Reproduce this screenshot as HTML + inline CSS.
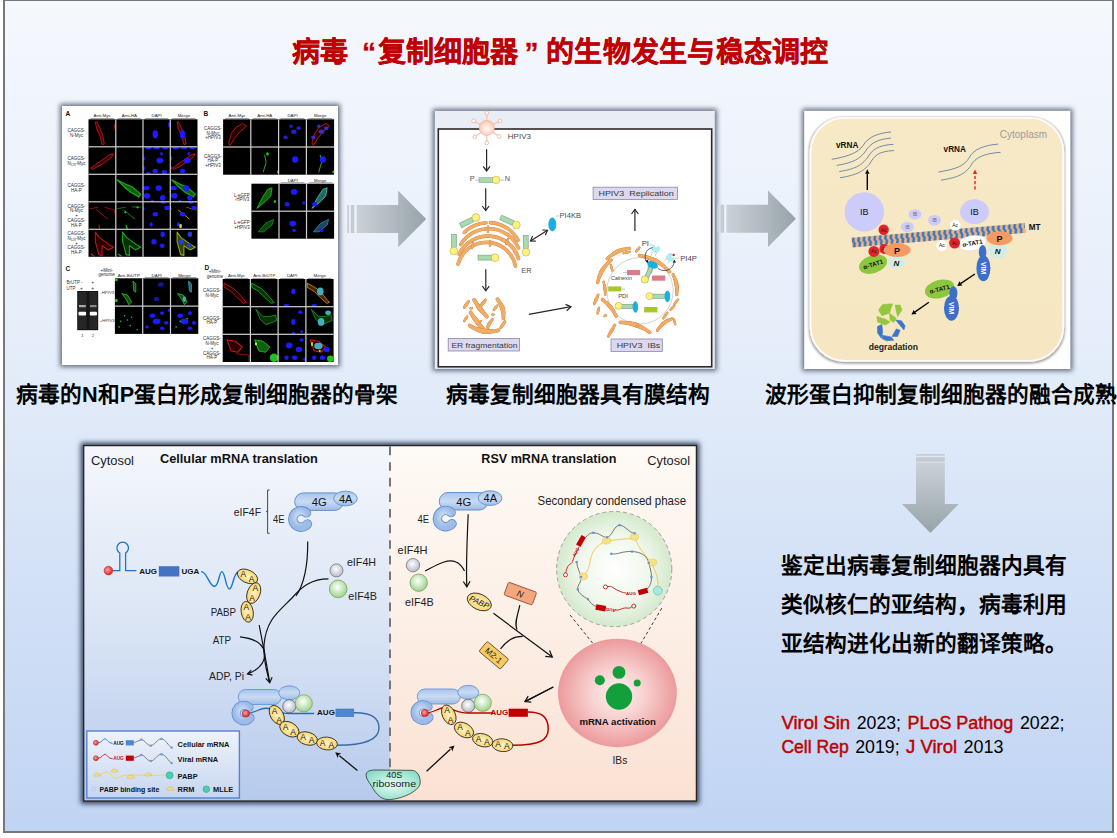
<!DOCTYPE html>
<html lang="zh-CN"><head><meta charset="utf-8"><style>
html,body{margin:0;padding:0;background:#fff;}
body{width:1117px;height:838px;position:relative;overflow:hidden;font-family:'Liberation Sans', sans-serif;}
#frame{position:absolute;left:3px;top:-1px;width:1107px;height:830px;border:2px solid #777;
background:linear-gradient(to bottom,#f5f8fd 0%,#e6eefa 40%,#c0d4f3 100%);}
svg{position:absolute;left:0;top:0;}
</style></head><body>
<div id="frame"></div>
<svg width="1117" height="838" viewBox="0 0 1117 838">
<defs>
<filter id="sh" x="-10%" y="-10%" width="120%" height="120%" color-interpolation-filters="sRGB"><feMorphology in="SourceAlpha" operator="dilate" radius="1.8"/><feGaussianBlur stdDeviation="2.4"/><feComponentTransfer><feFuncR type="linear" slope="0" intercept="0.4"/><feFuncG type="linear" slope="0" intercept="0.44"/><feFuncB type="linear" slope="0" intercept="0.52"/><feFuncA type="linear" slope="1.05"/></feComponentTransfer><feMerge><feMergeNode/><feMergeNode in="SourceGraphic"/></feMerge></filter><filter id="sh3" x="-10%" y="-10%" width="120%" height="120%" color-interpolation-filters="sRGB"><feMorphology in="SourceAlpha" operator="dilate" radius="2.5"/><feGaussianBlur stdDeviation="2.6"/><feComponentTransfer><feFuncR type="linear" slope="0" intercept="0.3"/><feFuncG type="linear" slope="0" intercept="0.36"/><feFuncB type="linear" slope="0" intercept="0.46"/><feFuncA type="linear" slope="1.15"/></feComponentTransfer><feMerge><feMergeNode/><feMergeNode in="SourceGraphic"/></feMerge></filter>
<filter id="b05"><feGaussianBlur stdDeviation="0.5"/></filter>
<filter id="b04"><feGaussianBlur stdDeviation="0.4"/></filter><filter id="b03"><feGaussianBlur stdDeviation="0.3"/></filter>
<linearGradient id="ag" x1="0" y1="0" x2="1" y2="0"><stop offset="0" stop-color="#cbd2d7"/><stop offset="1" stop-color="#97a3aa"/></linearGradient><linearGradient id="agv" x1="0" y1="0" x2="0" y2="1"><stop offset="0" stop-color="#cbd2d7"/><stop offset="1" stop-color="#97a3aa"/></linearGradient>
<radialGradient id="vir" cx="0.5" cy="0.55" r="0.6"><stop offset="0" stop-color="#fffaf6"/><stop offset="0.6" stop-color="#fbd9c8"/><stop offset="1" stop-color="#f2b99f"/></radialGradient>
<linearGradient id="beige" x1="0" y1="0" x2="0" y2="1"><stop offset="0" stop-color="#f7e9c6"/><stop offset="1" stop-color="#f6e7c2"/></linearGradient>
<pattern id="mt" x="0" y="0" width="5.4" height="9.8" patternUnits="userSpaceOnUse" patternTransform="translate(0,-4.9)"><rect width="5.4" height="9.8" fill="#f5b07c"/><path d="M1.2,-0.5 Q2.6,1.2 1.6,2.4 Q0.8,3.6 2.2,4.9 Q3.4,6.1 2.4,7.3 Q1.6,8.6 3,10.3" stroke="#2a7acb" stroke-width="2.3" fill="none"/></pattern>
<filter id="sh2" x="-5%" y="-5%" width="110%" height="110%"><feMorphology in="SourceAlpha" operator="dilate" radius="1"/><feGaussianBlur stdDeviation="1.1"/><feOffset dx="0" dy="0.6"/><feComponentTransfer><feFuncA type="linear" slope="0.35"/></feComponentTransfer><feMerge><feMergeNode/><feMergeNode in="SourceGraphic"/></feMerge></filter>
<linearGradient id="lbg" x1="0" y1="0" x2="0" y2="1"><stop offset="0" stop-color="#f4f7fc"/><stop offset="0.5" stop-color="#dbe5f5"/><stop offset="1" stop-color="#b6caec"/></linearGradient>
<linearGradient id="rbg" x1="0" y1="0" x2="0" y2="1"><stop offset="0" stop-color="#fefaf5"/><stop offset="0.5" stop-color="#fcefe6"/><stop offset="1" stop-color="#fbe1d3"/></linearGradient>
<linearGradient id="leg" x1="0" y1="0" x2="0" y2="1"><stop offset="0" stop-color="#eef3fb"/><stop offset="1" stop-color="#c6d6f0"/></linearGradient>
<linearGradient id="blg" x1="0" y1="0" x2="0" y2="1"><stop offset="0" stop-color="#a9c4ea"/><stop offset="0.5" stop-color="#c9dbf3"/><stop offset="1" stop-color="#9ebce6"/></linearGradient>
<radialGradient id="blg2" cx="0.45" cy="0.4" r="0.6"><stop offset="0" stop-color="#d8e6f8"/><stop offset="1" stop-color="#9dbbe6"/></radialGradient>
<radialGradient id="yel" cx="0.5" cy="0.5" r="0.6"><stop offset="0" stop-color="#fff2c2"/><stop offset="1" stop-color="#f7cf5e"/></radialGradient>
<radialGradient id="gry" cx="0.45" cy="0.4" r="0.6"><stop offset="0" stop-color="#ffffff"/><stop offset="1" stop-color="#b4bacb"/></radialGradient>
<radialGradient id="grn" cx="0.45" cy="0.4" r="0.6"><stop offset="0" stop-color="#ffffff"/><stop offset="1" stop-color="#9dd38a"/></radialGradient>
<radialGradient id="redc" cx="0.4" cy="0.4" r="0.6"><stop offset="0" stop-color="#f8a0a0"/><stop offset="1" stop-color="#e02828"/></radialGradient>
<radialGradient id="gcr" cx="0.5" cy="0.5" r="0.5"><stop offset="0" stop-color="#ffffff"/><stop offset="0.6" stop-color="#f0f7ec"/><stop offset="1" stop-color="#d4e9cc"/></radialGradient>
<radialGradient id="pnk" cx="0.5" cy="0.5" r="0.5"><stop offset="0" stop-color="#fdf2f0"/><stop offset="0.45" stop-color="#f8d2d0"/><stop offset="1" stop-color="#ec9a9c"/></radialGradient>
<radialGradient id="rib" cx="0.5" cy="0.5" r="0.6"><stop offset="0" stop-color="#eafcf8"/><stop offset="1" stop-color="#86dcc4"/></radialGradient>
<filter id="b06"><feGaussianBlur stdDeviation="0.6"/></filter>
<filter id="b1"><feGaussianBlur stdDeviation="1"/></filter>
</defs>
<rect x="62" y="106" width="276" height="259" fill="#fff" filter="url(#sh)"/><rect x="88.5" y="119.3" width="109.0" height="137.5" fill="#000"/><svg x="88.50" y="119.30" width="27.25" height="27.50" overflow="hidden"><g transform="translate(-88.50,-119.30)"><path d="M96.7,121.5 L99.4,127.5 L102.7,134.4 L104.3,144.1 L102.1,144.6 L99.9,135.8 L96.7,128.9 L95.3,122.0 Z" stroke="#e01818" stroke-width="0.9" fill="#e01818" fill-opacity="0.25" stroke-opacity="0.85" stroke-linejoin="round" filter="url(#b06)"/><path d="M114.4,124.8 L115.2,130.3" stroke="#e01818" stroke-width="0.8" fill="none" stroke-linecap="round" filter="url(#b04)"/></g></svg><svg x="143.00" y="119.30" width="27.25" height="27.50" overflow="hidden"><g transform="translate(-143.00,-119.30)"><ellipse cx="155.3" cy="134.4" rx="2.7" ry="4.1" fill="#1a1aff" filter="url(#b04)"/><ellipse cx="169.4" cy="124.8" rx="1.4" ry="2.8" fill="#1a1aff" filter="url(#b04)"/></g></svg><svg x="170.25" y="119.30" width="27.25" height="27.50" overflow="hidden"><g transform="translate(-170.25,-119.30)"><path d="M178.4,121.5 L181.2,127.5 L184.4,134.4 L186.1,144.1 L183.9,144.6 L181.7,135.8 L178.4,128.9 L177.1,122.0 Z" stroke="#e01818" stroke-width="0.9" fill="#e01818" fill-opacity="0.25" stroke-opacity="0.85" stroke-linejoin="round" filter="url(#b06)"/><ellipse cx="182.5" cy="134.4" rx="2.7" ry="4.1" fill="#1a1aff" filter="url(#b04)"/></g></svg><svg x="88.50" y="146.80" width="27.25" height="27.50" overflow="hidden"><g transform="translate(-88.50,-146.80)"><path d="M90.7,168.2 L99.4,161.9 L108.9,155.1 L113.0,153.7 L111.7,157.2 L103.5,163.3 L92.6,169.4 Z" stroke="#e01818" stroke-width="0.9" fill="#e01818" fill-opacity="0.25" stroke-opacity="0.85" stroke-linejoin="round" filter="url(#b06)"/></g></svg><svg x="143.00" y="146.80" width="27.25" height="27.50" overflow="hidden"><g transform="translate(-143.00,-146.80)"><ellipse cx="148.4" cy="147.6" rx="3.3" ry="1.9" fill="#1a1aff" filter="url(#b04)"/><ellipse cx="156.6" cy="147.6" rx="3.3" ry="1.9" fill="#1a1aff" filter="url(#b04)"/><ellipse cx="165.3" cy="147.6" rx="3.3" ry="1.9" fill="#1a1aff" filter="url(#b04)"/><ellipse cx="159.9" cy="160.6" rx="3.5" ry="2.8" fill="#1a1aff" filter="url(#b04)"/><ellipse cx="161.5" cy="153.7" rx="1.4" ry="1.6" fill="#1a1aff" filter="url(#b04)"/><ellipse cx="143.5" cy="158.4" rx="1.4" ry="2.2" fill="#1a1aff" filter="url(#b04)"/><ellipse cx="143.5" cy="168.2" rx="1.4" ry="2.2" fill="#1a1aff" filter="url(#b04)"/><ellipse cx="155.3" cy="171.0" rx="2.7" ry="2.2" fill="#1a1aff" filter="url(#b04)"/><ellipse cx="164.3" cy="172.1" rx="2.7" ry="2.2" fill="#1a1aff" filter="url(#b04)"/><ellipse cx="148.4" cy="173.5" rx="2.2" ry="1.4" fill="#1a1aff" filter="url(#b04)"/></g></svg><svg x="170.25" y="146.80" width="27.25" height="27.50" overflow="hidden"><g transform="translate(-170.25,-146.80)"><path d="M172.4,168.2 L181.2,161.9 L190.7,155.1 L194.8,153.7 L193.4,157.2 L185.2,163.3 L174.3,169.4 Z" stroke="#e01818" stroke-width="0.9" fill="#e01818" fill-opacity="0.25" stroke-opacity="0.85" stroke-linejoin="round" filter="url(#b06)"/><ellipse cx="175.7" cy="147.6" rx="3.3" ry="1.9" fill="#1a1aff" filter="url(#b04)"/><ellipse cx="183.9" cy="147.6" rx="3.3" ry="1.9" fill="#1a1aff" filter="url(#b04)"/><ellipse cx="192.6" cy="147.6" rx="3.3" ry="1.9" fill="#1a1aff" filter="url(#b04)"/><ellipse cx="187.1" cy="160.6" rx="3.5" ry="2.8" fill="#1a1aff" filter="url(#b04)"/><ellipse cx="188.8" cy="153.7" rx="1.4" ry="1.6" fill="#1a1aff" filter="url(#b04)"/><ellipse cx="170.8" cy="158.4" rx="1.4" ry="2.2" fill="#1a1aff" filter="url(#b04)"/><ellipse cx="170.8" cy="168.2" rx="1.4" ry="2.2" fill="#1a1aff" filter="url(#b04)"/><ellipse cx="182.5" cy="171.0" rx="2.7" ry="2.2" fill="#1a1aff" filter="url(#b04)"/></g></svg><svg x="115.75" y="174.30" width="27.25" height="27.50" overflow="hidden"><g transform="translate(-115.75,-174.30)"><path d="M117.1,179.8 L125.3,183.9 L132.1,186.7 L140.8,194.1 L138.9,196.9 L130.7,192.2 L123.9,186.7 Z" stroke="#22c022" stroke-width="1.1" fill="#22c022" fill-opacity="0.5" stroke-opacity="0.85" stroke-linejoin="round" filter="url(#b06)"/></g></svg><svg x="143.00" y="174.30" width="27.25" height="27.50" overflow="hidden"><g transform="translate(-143.00,-174.30)"><ellipse cx="146.3" cy="188.1" rx="3.3" ry="2.2" fill="#1a1aff" filter="url(#b04)"/><ellipse cx="158.8" cy="188.1" rx="3.3" ry="2.8" fill="#1a1aff" filter="url(#b04)"/><ellipse cx="147.1" cy="195.8" rx="3.3" ry="2.8" fill="#1a1aff" filter="url(#b04)"/><ellipse cx="162.6" cy="197.7" rx="2.7" ry="2.8" fill="#1a1aff" filter="url(#b04)"/><ellipse cx="152.5" cy="201.2" rx="1.6" ry="1.1" fill="#1a1aff" filter="url(#b04)"/></g></svg><svg x="170.25" y="174.30" width="27.25" height="27.50" overflow="hidden"><g transform="translate(-170.25,-174.30)"><path d="M171.6,179.8 L179.8,183.9 L186.6,186.7 L195.3,194.1 L193.4,196.9 L185.2,192.2 L178.4,186.7 Z" stroke="#22c022" stroke-width="1.1" fill="#22c022" fill-opacity="0.5" stroke-opacity="0.85" stroke-linejoin="round" filter="url(#b06)"/><ellipse cx="173.5" cy="188.1" rx="3.3" ry="2.2" fill="#1a1aff" filter="url(#b04)"/><ellipse cx="186.1" cy="188.1" rx="3.3" ry="2.8" fill="#1a1aff" filter="url(#b04)"/><ellipse cx="174.3" cy="195.8" rx="3.3" ry="2.8" fill="#1a1aff" filter="url(#b04)"/><ellipse cx="189.9" cy="197.7" rx="2.7" ry="2.8" fill="#1a1aff" filter="url(#b04)"/><ellipse cx="179.8" cy="201.2" rx="1.6" ry="1.1" fill="#1a1aff" filter="url(#b04)"/></g></svg><svg x="88.50" y="201.80" width="27.25" height="27.50" overflow="hidden"><g transform="translate(-88.50,-201.80)"><path d="M89.9,208.7 L98.0,207.3" stroke="#a01010" stroke-width="0.9" fill="none" stroke-linecap="round" filter="url(#b04)"/><path d="M96.7,210.1 L107.6,218.9" stroke="#a01010" stroke-width="1.0" fill="none" stroke-linecap="round" filter="url(#b04)"/><path d="M104.8,207.3 L114.4,210.1 L115.2,214.2" stroke="#a01010" stroke-width="0.9" fill="none" stroke-linecap="round" filter="url(#b04)"/><path d="M98.9,225.2 L99.9,228.8" stroke="#a01010" stroke-width="1.2" fill="none" stroke-linecap="round" filter="url(#b04)"/></g></svg><svg x="115.75" y="201.80" width="27.25" height="27.50" overflow="hidden"><g transform="translate(-115.75,-201.80)"><path d="M117.1,208.7 L125.3,207.3" stroke="#158a15" stroke-width="0.8" fill="none" stroke-linecap="round" filter="url(#b04)"/><path d="M123.9,210.1 L134.8,218.9" stroke="#158a15" stroke-width="0.9" fill="none" stroke-linecap="round" filter="url(#b04)"/><path d="M132.1,206.8 L140.3,207.3" stroke="#158a15" stroke-width="0.8" fill="none" stroke-linecap="round" filter="url(#b04)"/><ellipse cx="125.3" cy="212.2" rx="1.1" ry="1.1" fill="#22c022" opacity="1" transform="rotate(0 125.3 212.2)" filter="url(#b04)"/><ellipse cx="137.6" cy="207.3" rx="1.1" ry="1.1" fill="#22c022" opacity="1" transform="rotate(0 137.6 207.3)" filter="url(#b04)"/><path d="M126.1,225.2 L127.2,228.8" stroke="#22c022" stroke-width="1.2" fill="none" stroke-linecap="round" filter="url(#b04)"/></g></svg><svg x="143.00" y="201.80" width="27.25" height="27.50" overflow="hidden"><g transform="translate(-143.00,-201.80)"><ellipse cx="155.3" cy="214.2" rx="2.7" ry="2.2" fill="#1a1aff" filter="url(#b04)"/><ellipse cx="167.0" cy="207.9" rx="2.7" ry="2.2" fill="#1a1aff" filter="url(#b04)"/><ellipse cx="151.2" cy="224.4" rx="1.6" ry="2.2" fill="#1a1aff" filter="url(#b04)"/><ellipse cx="163.4" cy="202.4" rx="2.7" ry="1.4" fill="#1a1aff" filter="url(#b04)"/><ellipse cx="143.5" cy="208.7" rx="1.1" ry="1.6" fill="#1a1aff" filter="url(#b04)"/></g></svg><svg x="170.25" y="201.80" width="27.25" height="27.50" overflow="hidden"><g transform="translate(-170.25,-201.80)"><path d="M178.4,210.1 L189.3,218.9" stroke="#d88020" stroke-width="1.0" fill="none" stroke-linecap="round" filter="url(#b04)"/><path d="M186.6,207.3 L196.1,210.1" stroke="#806010" stroke-width="0.9" fill="none" stroke-linecap="round" filter="url(#b04)"/><ellipse cx="182.5" cy="214.2" rx="2.7" ry="2.2" fill="#1a1aff" filter="url(#b04)"/><ellipse cx="194.2" cy="207.9" rx="2.7" ry="2.2" fill="#1a1aff" filter="url(#b04)"/><ellipse cx="178.4" cy="224.4" rx="1.6" ry="2.2" fill="#1a1aff" filter="url(#b04)"/><ellipse cx="190.7" cy="202.4" rx="2.7" ry="1.4" fill="#1a1aff" filter="url(#b04)"/><ellipse cx="170.8" cy="208.7" rx="1.1" ry="1.6" fill="#1a1aff" filter="url(#b04)"/><ellipse cx="180.6" cy="226.0" rx="1.4" ry="2.2" fill="#c8c830" opacity="1" transform="rotate(0 180.6 226.0)" filter="url(#b04)"/></g></svg><svg x="88.50" y="229.30" width="27.25" height="27.50" overflow="hidden"><g transform="translate(-88.50,-229.30)"><path d="M95.3,232.1 L99.4,237.6 L108.9,244.4 L113.6,247.2 L108.1,249.9 L102.1,245.8 L102.1,255.4 L98.9,254.6 L95.3,241.7 Z" stroke="#e01818" stroke-width="1.1" fill="#e01818" fill-opacity="0.2" stroke-opacity="0.85" stroke-linejoin="round" filter="url(#b06)"/><path d="M91.2,254.1 L94.0,256.2" stroke="#e01818" stroke-width="1.2" fill="none" stroke-linecap="round" filter="url(#b04)"/></g></svg><svg x="115.75" y="229.30" width="27.25" height="27.50" overflow="hidden"><g transform="translate(-115.75,-229.30)"><path d="M122.6,232.1 L126.7,237.6 L136.2,244.4 L140.8,247.2 L135.4,249.9 L129.4,245.8 L129.4,255.4 L126.1,254.6 L122.6,241.7 Z" stroke="#22c022" stroke-width="1.1" fill="#22c022" fill-opacity="0.25" stroke-opacity="0.85" stroke-linejoin="round" filter="url(#b06)"/><path d="M118.5,254.1 L121.2,256.2" stroke="#22c022" stroke-width="1.2" fill="none" stroke-linecap="round" filter="url(#b04)"/></g></svg><svg x="143.00" y="229.30" width="27.25" height="27.50" overflow="hidden"><g transform="translate(-143.00,-229.30)"><ellipse cx="162.6" cy="234.2" rx="2.2" ry="2.8" fill="#1a1aff" filter="url(#b04)"/><ellipse cx="153.9" cy="241.7" rx="2.7" ry="2.8" fill="#1a1aff" filter="url(#b04)"/><ellipse cx="162.1" cy="245.8" rx="2.5" ry="2.2" fill="#1a1aff" filter="url(#b04)"/></g></svg><svg x="170.25" y="229.30" width="27.25" height="27.50" overflow="hidden"><g transform="translate(-170.25,-229.30)"><path d="M177.1,232.1 L181.2,237.6 L190.7,244.4 L195.3,247.2 L189.9,249.9 L183.9,245.8 L183.9,255.4 L180.6,254.6 L177.1,241.7 Z" stroke="#a0c020" stroke-width="1.1" fill="#a0c020" fill-opacity="0.35" stroke-opacity="0.85" stroke-linejoin="round" filter="url(#b06)"/><ellipse cx="189.9" cy="234.2" rx="2.2" ry="2.8" fill="#2040d0" filter="url(#b04)"/><ellipse cx="181.2" cy="241.7" rx="2.7" ry="2.8" fill="#2040d0" filter="url(#b04)"/><ellipse cx="189.3" cy="245.8" rx="2.5" ry="2.2" fill="#2040d0" filter="url(#b04)"/></g></svg><rect x="115.2" y="119.3" width="1.2" height="137.5" fill="#d0d0d0"/><rect x="142.4" y="119.3" width="1.2" height="137.5" fill="#d0d0d0"/><rect x="169.7" y="119.3" width="1.2" height="137.5" fill="#d0d0d0"/><rect x="88.5" y="146.2" width="109.0" height="1.2" fill="#d0d0d0"/><rect x="88.5" y="173.7" width="109.0" height="1.2" fill="#d0d0d0"/><rect x="88.5" y="201.2" width="109.0" height="1.2" fill="#d0d0d0"/><rect x="88.5" y="228.7" width="109.0" height="1.2" fill="#d0d0d0"/><rect x="223.1" y="119.3" width="111.0" height="55.4" fill="#000"/><svg x="223.10" y="119.30" width="27.75" height="27.70" overflow="hidden"><g transform="translate(-223.10,-119.30)"><path d="M228.7,142.8 L231.4,133.2 L235.6,127.6 L242.5,123.5 L246.7,126.2 L239.8,131.8 L234.2,138.7 L230.0,145.6 Z" stroke="#e01818" stroke-width="0.9" fill="#e01818" fill-opacity="0.15" stroke-opacity="0.85" stroke-linejoin="round" filter="url(#b06)"/></g></svg><svg x="278.60" y="119.30" width="27.75" height="27.70" overflow="hidden"><g transform="translate(-278.60,-119.30)"><ellipse cx="293.9" cy="131.8" rx="2.8" ry="2.2" fill="#2020c0" filter="url(#b04)"/><ellipse cx="298.6" cy="128.2" rx="2.2" ry="1.9" fill="#2020c0" filter="url(#b04)"/><ellipse cx="285.5" cy="137.3" rx="2.2" ry="1.9" fill="#2020c0" filter="url(#b04)"/><ellipse cx="291.1" cy="126.2" rx="1.7" ry="1.7" fill="#2020c0" filter="url(#b04)"/></g></svg><svg x="306.35" y="119.30" width="27.75" height="27.70" overflow="hidden"><g transform="translate(-306.35,-119.30)"><path d="M311.9,142.8 L314.7,133.2 L318.8,127.6 L325.8,123.5 L329.9,126.2 L323.0,131.8 L317.5,138.7 L313.3,145.6 Z" stroke="#e01818" stroke-width="0.9" fill="#e01818" fill-opacity="0.15" stroke-opacity="0.85" stroke-linejoin="round" filter="url(#b06)"/><ellipse cx="321.6" cy="131.8" rx="2.8" ry="2.2" fill="#3030d0" filter="url(#b04)"/><ellipse cx="326.3" cy="128.2" rx="2.2" ry="1.9" fill="#3030d0" filter="url(#b04)"/><ellipse cx="313.3" cy="137.3" rx="2.2" ry="1.9" fill="#3030d0" filter="url(#b04)"/><ellipse cx="318.8" cy="126.2" rx="1.7" ry="1.7" fill="#3030d0" filter="url(#b04)"/></g></svg><svg x="250.85" y="147.00" width="27.75" height="27.70" overflow="hidden"><g transform="translate(-250.85,-147.00)"><path d="M264.7,155.3 L266.1,162.2 L263.3,171.9" stroke="#22c022" stroke-width="0.9" fill="none" stroke-linecap="round" filter="url(#b04)"/><ellipse cx="267.5" cy="153.9" rx="1.4" ry="1.7" fill="#22c022" opacity="1" transform="rotate(0 267.5 153.9)" filter="url(#b04)"/><ellipse cx="278.0" cy="171.9" rx="1.1" ry="1.4" fill="#22c022" opacity="1" transform="rotate(0 278.0 171.9)" filter="url(#b04)"/></g></svg><svg x="278.60" y="147.00" width="27.75" height="27.70" overflow="hidden"><g transform="translate(-278.60,-147.00)"><ellipse cx="295.2" cy="159.5" rx="3.1" ry="3.3" fill="#1a1aff" filter="url(#b04)"/></g></svg><svg x="306.35" y="147.00" width="27.75" height="27.70" overflow="hidden"><g transform="translate(-306.35,-147.00)"><path d="M320.2,155.3 L321.6,162.2 L318.8,171.9" stroke="#22c022" stroke-width="0.9" fill="none" stroke-linecap="round" filter="url(#b04)"/><ellipse cx="323.0" cy="159.5" rx="3.1" ry="3.3" fill="#1a1aff" filter="url(#b04)"/><ellipse cx="333.5" cy="171.9" rx="1.1" ry="1.4" fill="#22c022" opacity="1" transform="rotate(0 333.5 171.9)" filter="url(#b04)"/></g></svg><rect x="250.2" y="119.3" width="1.2" height="55.4" fill="#d0d0d0"/><rect x="278.0" y="119.3" width="1.2" height="55.4" fill="#d0d0d0"/><rect x="305.8" y="119.3" width="1.2" height="55.4" fill="#d0d0d0"/><rect x="223.1" y="146.4" width="111.0" height="1.2" fill="#d0d0d0"/><rect x="251.4" y="183.7" width="82.7" height="55.0" fill="#000"/><svg x="251.40" y="183.70" width="27.57" height="27.50" overflow="hidden"><g transform="translate(-251.40,-183.70)"><path d="M256.9,208.4 L262.4,197.4 L267.9,189.2 L272.1,187.8 L270.7,196.1 L263.8,202.9 Z" stroke="#22c022" stroke-width="1.0" fill="#22c022" fill-opacity="0.5" stroke-opacity="0.85" stroke-linejoin="round" filter="url(#b06)"/><ellipse cx="274.8" cy="201.6" rx="1.1" ry="1.6" fill="#22c022" opacity="1" transform="rotate(0 274.8 201.6)" filter="url(#b04)"/></g></svg><svg x="278.97" y="183.70" width="27.57" height="27.50" overflow="hidden"><g transform="translate(-278.97,-183.70)"><ellipse cx="294.1" cy="191.9" rx="3.3" ry="2.8" fill="#1a1aff" filter="url(#b04)"/><ellipse cx="287.2" cy="204.3" rx="2.5" ry="2.2" fill="#1a1aff" filter="url(#b04)"/><ellipse cx="303.8" cy="202.9" rx="1.4" ry="1.6" fill="#1a1aff" filter="url(#b04)"/></g></svg><svg x="306.53" y="183.70" width="27.57" height="27.50" overflow="hidden"><g transform="translate(-306.53,-183.70)"><path d="M312.0,208.4 L317.6,197.4 L323.1,189.2 L327.2,187.8 L325.8,196.1 L318.9,202.9 Z" stroke="#40c0b0" stroke-width="1.0" fill="#40c0b0" fill-opacity="0.55" stroke-opacity="0.85" stroke-linejoin="round" filter="url(#b06)"/><ellipse cx="314.8" cy="204.3" rx="2.5" ry="2.2" fill="#1a1aff" filter="url(#b04)"/></g></svg><svg x="251.40" y="211.20" width="27.57" height="27.50" overflow="hidden"><g transform="translate(-251.40,-211.20)"><path d="M258.3,231.8 L265.2,223.6 L273.5,219.4 L272.1,224.9 L263.8,231.8 Z" stroke="#158a15" stroke-width="1.0" fill="#158a15" fill-opacity="0.5" stroke-opacity="0.85" stroke-linejoin="round" filter="url(#b06)"/></g></svg><svg x="278.97" y="211.20" width="27.57" height="27.50" overflow="hidden"><g transform="translate(-278.97,-211.20)"><ellipse cx="292.8" cy="223.6" rx="3.3" ry="2.8" fill="#1a1aff" filter="url(#b04)"/><ellipse cx="294.1" cy="230.4" rx="1.9" ry="1.6" fill="#1a1aff" filter="url(#b04)"/></g></svg><svg x="306.53" y="211.20" width="27.57" height="27.50" overflow="hidden"><g transform="translate(-306.53,-211.20)"><path d="M313.4,231.8 L320.3,223.6 L328.6,219.4 L327.2,224.9 L318.9,231.8 Z" stroke="#3080b0" stroke-width="1.0" fill="#3080b0" fill-opacity="0.55" stroke-opacity="0.85" stroke-linejoin="round" filter="url(#b06)"/><ellipse cx="321.7" cy="230.4" rx="1.9" ry="1.6" fill="#1a1aff" filter="url(#b04)"/></g></svg><rect x="278.4" y="183.7" width="1.2" height="55.0" fill="#d0d0d0"/><rect x="305.9" y="183.7" width="1.2" height="55.0" fill="#d0d0d0"/><rect x="251.4" y="210.6" width="82.7" height="1.2" fill="#d0d0d0"/><rect x="114.9" y="278.3" width="83.4" height="55.6" fill="#000"/><svg x="114.90" y="278.30" width="27.80" height="27.80" overflow="hidden"><g transform="translate(-114.90,-278.30)"><path d="M121.9,293.6 L126.0,299.1 L128.8,304.7 L131.6,301.9 L127.4,295.0 Z" stroke="#22c022" stroke-width="1.0" fill="#22c022" fill-opacity="0.4" stroke-opacity="0.85" stroke-linejoin="round" filter="url(#b06)"/><path d="M133.0,281.1 L135.8,283.9 L135.8,292.2 L133.8,290.8 Z" stroke="#22c022" stroke-width="1.0" fill="#22c022" fill-opacity="0.4" stroke-opacity="0.85" stroke-linejoin="round" filter="url(#b06)"/><ellipse cx="116.3" cy="300.5" rx="1.4" ry="1.7" fill="#22c022" opacity="1" transform="rotate(0 116.3 300.5)" filter="url(#b04)"/><ellipse cx="116.3" cy="279.7" rx="1.4" ry="1.7" fill="#22c022" opacity="1" transform="rotate(0 116.3 279.7)" filter="url(#b04)"/></g></svg><svg x="142.70" y="278.30" width="27.80" height="27.80" overflow="hidden"><g transform="translate(-142.70,-278.30)"><ellipse cx="160.8" cy="284.4" rx="2.8" ry="2.2" fill="#1818a0" filter="url(#b04)"/><ellipse cx="156.6" cy="299.1" rx="2.8" ry="2.2" fill="#1818a0" filter="url(#b04)"/></g></svg><svg x="170.50" y="278.30" width="27.80" height="27.80" overflow="hidden"><g transform="translate(-170.50,-278.30)"><path d="M177.4,293.6 L181.6,299.1 L184.4,304.7 L187.2,301.9 L183.0,295.0 Z" stroke="#22c022" stroke-width="1.0" fill="#22c022" fill-opacity="0.4" stroke-opacity="0.85" stroke-linejoin="round" filter="url(#b06)"/><path d="M188.6,281.1 L191.3,283.9 L191.3,292.2 L189.4,290.8 Z" stroke="#40b0c0" stroke-width="1.0" fill="#40b0c0" fill-opacity="0.5" stroke-opacity="0.85" stroke-linejoin="round" filter="url(#b06)"/><ellipse cx="184.4" cy="299.1" rx="1.7" ry="2.8" fill="#40b0c0" opacity="1" transform="rotate(0 184.4 299.1)" filter="url(#b04)"/></g></svg><svg x="114.90" y="306.10" width="27.80" height="27.80" overflow="hidden"><g transform="translate(-114.90,-306.10)"><ellipse cx="124.6" cy="315.8" rx="0.8" ry="0.8" fill="#22c022" filter="url(#b04)"/><ellipse cx="120.5" cy="321.4" rx="0.8" ry="0.8" fill="#22c022" filter="url(#b04)"/><ellipse cx="127.4" cy="320.0" rx="0.8" ry="0.8" fill="#22c022" filter="url(#b04)"/><ellipse cx="131.6" cy="317.2" rx="0.8" ry="0.8" fill="#22c022" filter="url(#b04)"/><ellipse cx="119.1" cy="326.9" rx="0.8" ry="0.8" fill="#22c022" filter="url(#b04)"/><ellipse cx="130.2" cy="325.6" rx="0.8" ry="0.8" fill="#22c022" filter="url(#b04)"/><ellipse cx="137.1" cy="329.7" rx="0.8" ry="0.8" fill="#22c022" filter="url(#b04)"/></g></svg><svg x="142.70" y="306.10" width="27.80" height="27.80" overflow="hidden"><g transform="translate(-142.70,-306.10)"><ellipse cx="152.4" cy="315.8" rx="2.8" ry="2.2" fill="#1a1aff" filter="url(#b04)"/><ellipse cx="156.6" cy="321.4" rx="3.9" ry="2.8" fill="#1a1aff" filter="url(#b04)"/><ellipse cx="162.2" cy="313.1" rx="2.2" ry="1.9" fill="#1a1aff" filter="url(#b04)"/><ellipse cx="166.3" cy="322.8" rx="2.2" ry="1.9" fill="#1a1aff" filter="url(#b04)"/><ellipse cx="146.9" cy="326.9" rx="1.7" ry="1.7" fill="#1a1aff" filter="url(#b04)"/><ellipse cx="162.2" cy="328.3" rx="2.2" ry="1.9" fill="#1a1aff" filter="url(#b04)"/><ellipse cx="169.1" cy="310.3" rx="1.4" ry="1.7" fill="#1a1aff" filter="url(#b04)"/></g></svg><svg x="170.50" y="306.10" width="27.80" height="27.80" overflow="hidden"><g transform="translate(-170.50,-306.10)"><ellipse cx="180.2" cy="315.8" rx="2.8" ry="2.2" fill="#1a1aff" filter="url(#b04)"/><ellipse cx="184.4" cy="321.4" rx="3.9" ry="2.8" fill="#1a1aff" filter="url(#b04)"/><ellipse cx="190.0" cy="313.1" rx="2.2" ry="1.9" fill="#1a1aff" filter="url(#b04)"/><ellipse cx="194.1" cy="322.8" rx="2.2" ry="1.9" fill="#1a1aff" filter="url(#b04)"/><ellipse cx="190.0" cy="328.3" rx="2.2" ry="1.9" fill="#1a1aff" filter="url(#b04)"/><ellipse cx="180.2" cy="321.4" rx="0.8" ry="0.8" fill="#22c022" filter="url(#b04)"/><ellipse cx="187.2" cy="318.6" rx="0.8" ry="0.8" fill="#22c022" filter="url(#b04)"/><ellipse cx="176.1" cy="326.9" rx="0.8" ry="0.8" fill="#22c022" filter="url(#b04)"/></g></svg><rect x="142.1" y="278.3" width="1.2" height="55.6" fill="#d0d0d0"/><rect x="169.9" y="278.3" width="1.2" height="55.6" fill="#d0d0d0"/><rect x="114.9" y="305.5" width="83.4" height="1.2" fill="#d0d0d0"/><rect x="222.7" y="279" width="110.9" height="83.0" fill="#000"/><svg x="222.70" y="279.00" width="27.73" height="27.67" overflow="hidden"><g transform="translate(-222.70,-279.00)"><path d="M224.1,283.1 L233.8,288.7 L239.3,294.2 L246.3,302.5 L243.5,303.3 L236.6,297.0 L231.0,291.4 L224.1,287.3 Z" stroke="#e01818" stroke-width="0.9" fill="#e01818" fill-opacity="0.15" stroke-opacity="0.85" stroke-linejoin="round" filter="url(#b06)"/></g></svg><svg x="250.43" y="279.00" width="27.73" height="27.67" overflow="hidden"><g transform="translate(-250.43,-279.00)"><path d="M251.8,283.1 L261.5,288.7 L267.1,294.2 L274.0,302.5 L271.2,303.3 L264.3,297.0 L258.7,291.4 L251.8,287.3 Z" stroke="#22c022" stroke-width="0.9" fill="#22c022" fill-opacity="0.25" stroke-opacity="0.85" stroke-linejoin="round" filter="url(#b06)"/></g></svg><svg x="278.15" y="279.00" width="27.73" height="27.67" overflow="hidden"><g transform="translate(-278.15,-279.00)"><ellipse cx="293.4" cy="291.4" rx="2.2" ry="2.8" fill="#1a1aff" filter="url(#b04)"/><ellipse cx="286.5" cy="305.3" rx="2.8" ry="1.4" fill="#1a1aff" filter="url(#b04)"/></g></svg><svg x="305.88" y="279.00" width="27.73" height="27.67" overflow="hidden"><g transform="translate(-305.88,-279.00)"><path d="M307.3,283.1 L317.0,288.7 L322.5,294.2 L329.4,302.5 L326.7,303.3 L319.7,297.0 L314.2,291.4 L307.3,287.3 Z" stroke="#d88020" stroke-width="1.0" fill="#d88020" fill-opacity="0.3" stroke-opacity="0.85" stroke-linejoin="round" filter="url(#b06)"/><ellipse cx="320.3" cy="291.4" rx="3.3" ry="3.9" fill="#40b0c0" opacity="1" transform="rotate(0 320.3 291.4)" filter="url(#b04)"/><ellipse cx="314.2" cy="305.3" rx="2.8" ry="1.4" fill="#1a1aff" filter="url(#b04)"/></g></svg><svg x="250.43" y="306.67" width="27.73" height="27.67" overflow="hidden"><g transform="translate(-250.43,-306.67)"><path d="M256.0,309.4 L262.9,316.4 L269.8,316.4 L275.4,315.0 L276.8,320.5 L269.8,323.3 L265.7,324.7 L260.1,319.1 Z" stroke="#20a020" stroke-width="0.9" fill="#20a020" fill-opacity="0.3" stroke-opacity="0.85" stroke-linejoin="round" filter="url(#b06)"/><path d="M258.7,323.3 L258.7,331.6" stroke="#158a15" stroke-width="0.9" fill="none" stroke-linecap="round" filter="url(#b04)"/></g></svg><svg x="278.15" y="306.67" width="27.73" height="27.67" overflow="hidden"><g transform="translate(-278.15,-306.67)"><ellipse cx="293.4" cy="321.9" rx="2.2" ry="2.8" fill="#1a1aff" filter="url(#b04)"/><ellipse cx="300.3" cy="312.2" rx="2.2" ry="1.7" fill="#1a1aff" filter="url(#b04)"/><ellipse cx="293.4" cy="333.0" rx="1.7" ry="1.1" fill="#1a1aff" filter="url(#b04)"/><ellipse cx="301.7" cy="331.6" rx="1.4" ry="1.4" fill="#1a1aff" filter="url(#b04)"/></g></svg><svg x="305.88" y="306.67" width="27.73" height="27.67" overflow="hidden"><g transform="translate(-305.88,-306.67)"><path d="M311.4,309.4 L318.4,316.4 L325.3,316.4 L330.8,315.0 L332.2,320.5 L325.3,323.3 L321.1,324.7 L315.6,319.1 Z" stroke="#20a020" stroke-width="0.9" fill="#20a020" fill-opacity="0.3" stroke-opacity="0.85" stroke-linejoin="round" filter="url(#b06)"/><ellipse cx="321.1" cy="321.9" rx="3.3" ry="3.9" fill="#40b0c0" opacity="1" transform="rotate(0 321.1 321.9)" filter="url(#b04)"/><ellipse cx="328.1" cy="312.8" rx="2.8" ry="2.2" fill="#40b0c0" opacity="1" transform="rotate(0 328.1 312.8)" filter="url(#b04)"/></g></svg><svg x="222.70" y="334.33" width="27.73" height="27.67" overflow="hidden"><g transform="translate(-222.70,-334.33)"><path d="M226.9,339.9 L235.2,341.2 L242.1,346.8 L237.9,352.3 L231.0,350.9 Z" stroke="#e01818" stroke-width="1.1" fill="#e01818" fill-opacity="0.2" stroke-opacity="0.85" stroke-linejoin="round" filter="url(#b06)"/><path d="M236.6,353.7 L249.0,355.1 L249.0,361.4" stroke="#a01010" stroke-width="0.9" fill="none" stroke-linecap="round" filter="url(#b04)"/></g></svg><svg x="250.43" y="334.33" width="27.73" height="27.67" overflow="hidden"><g transform="translate(-250.43,-334.33)"><path d="M254.6,339.9 L262.9,341.2 L269.8,346.8 L265.7,352.3 L258.7,350.9 Z" stroke="#22c022" stroke-width="1.0" fill="#22c022" fill-opacity="0.5" stroke-opacity="0.85" stroke-linejoin="round" filter="url(#b06)"/><ellipse cx="274.0" cy="357.8" rx="4.2" ry="4.2" fill="#22c022" opacity="1" transform="rotate(0 274.0 357.8)" filter="url(#b04)"/><ellipse cx="256.0" cy="344.0" rx="1.1" ry="1.4" fill="#a0ff60" opacity="1" transform="rotate(0 256.0 344.0)" filter="url(#b04)"/></g></svg><svg x="278.15" y="334.33" width="27.73" height="27.67" overflow="hidden"><g transform="translate(-278.15,-334.33)"><ellipse cx="289.2" cy="345.4" rx="3.3" ry="2.8" fill="#1a1aff" filter="url(#b04)"/><ellipse cx="298.9" cy="349.5" rx="3.3" ry="2.8" fill="#1a1aff" filter="url(#b04)"/><ellipse cx="301.7" cy="339.9" rx="2.2" ry="1.7" fill="#1a1aff" filter="url(#b04)"/><ellipse cx="286.5" cy="357.8" rx="2.2" ry="2.2" fill="#1a1aff" filter="url(#b04)"/><ellipse cx="294.8" cy="357.8" rx="2.8" ry="2.2" fill="#1a1aff" filter="url(#b04)"/><ellipse cx="304.5" cy="359.2" rx="1.4" ry="1.7" fill="#1a1aff" filter="url(#b04)"/></g></svg><svg x="305.88" y="334.33" width="27.73" height="27.67" overflow="hidden"><g transform="translate(-305.88,-334.33)"><path d="M310.0,339.9 L318.4,341.2 L325.3,346.8 L321.1,352.3 L314.2,350.9 Z" stroke="#e01818" stroke-width="1.1" fill="#e01818" fill-opacity="0.2" stroke-opacity="0.85" stroke-linejoin="round" filter="url(#b06)"/><ellipse cx="318.4" cy="346.0" rx="4.2" ry="3.3" fill="#40b0c0" opacity="1" transform="rotate(0 318.4 346.0)" filter="url(#b04)"/><ellipse cx="312.0" cy="344.0" rx="1.1" ry="2.2" fill="#c8c830" opacity="1" transform="rotate(0 312.0 344.0)" filter="url(#b04)"/><ellipse cx="319.7" cy="350.9" rx="1.1" ry="1.1" fill="#c8c830" opacity="1" transform="rotate(0 319.7 350.9)" filter="url(#b04)"/><ellipse cx="326.7" cy="349.5" rx="3.3" ry="2.8" fill="#1a1aff" filter="url(#b04)"/><ellipse cx="314.2" cy="357.8" rx="2.2" ry="2.2" fill="#1a1aff" filter="url(#b04)"/><ellipse cx="322.5" cy="357.8" rx="2.8" ry="2.2" fill="#1a1aff" filter="url(#b04)"/><ellipse cx="330.3" cy="358.7" rx="3.3" ry="3.3" fill="#22c022" opacity="1" transform="rotate(0 330.3 358.7)" filter="url(#b04)"/></g></svg><rect x="249.8" y="279" width="1.2" height="83.0" fill="#d0d0d0"/><rect x="277.5" y="279" width="1.2" height="83.0" fill="#d0d0d0"/><rect x="305.3" y="279" width="1.2" height="83.0" fill="#d0d0d0"/><rect x="222.7" y="306.1" width="110.9" height="1.2" fill="#d0d0d0"/><rect x="222.7" y="333.7" width="110.9" height="1.2" fill="#d0d0d0"/><rect x="77.2" y="291" width="21" height="39.2" fill="#161616"/><rect x="78.4" y="292" width="8" height="37" fill="#262626" filter="url(#b05)"/><rect x="89.6" y="292" width="7.5" height="37" fill="#262626" filter="url(#b05)"/><rect x="78.5" y="311.8" width="7.6" height="3.8" rx="1" fill="#fff" filter="url(#b04)"/><rect x="89.8" y="311.8" width="7.2" height="3.8" rx="1" fill="#fff" filter="url(#b04)"/><rect x="79" y="305" width="6.8" height="2.2" fill="#aaa" filter="url(#b05)"/><rect x="90" y="305" width="6.5" height="2.2" fill="#888" filter="url(#b05)"/><text x="65.5" y="115.5" font-family="'Liberation Sans', sans-serif" font-weight="bold" font-size="6.5" fill="#111">A</text><text x="203.5" y="115.5" font-family="'Liberation Sans', sans-serif" font-weight="bold" font-size="6.5" fill="#111">B</text><text x="65.5" y="270.5" font-family="'Liberation Sans', sans-serif" font-weight="bold" font-size="6.5" fill="#111">C</text><text x="204.5" y="270" font-family="'Liberation Sans', sans-serif" font-weight="bold" font-size="6.5" fill="#111">D</text><text x="102.1" y="117.3" font-family="'Liberation Sans', sans-serif" font-size="4.4" text-anchor="middle" fill="#222" font-weight="normal">Anti-Myc</text><rect x="90.5" y="118.1" width="23.2" height="0.5" fill="#444"/><text x="129.4" y="117.3" font-family="'Liberation Sans', sans-serif" font-size="4.4" text-anchor="middle" fill="#222" font-weight="normal">Anti-HA</text><rect x="117.8" y="118.1" width="23.2" height="0.5" fill="#444"/><text x="156.6" y="117.3" font-family="'Liberation Sans', sans-serif" font-size="4.4" text-anchor="middle" fill="#222" font-weight="normal">DAPI</text><rect x="145.0" y="118.1" width="23.2" height="0.5" fill="#444"/><text x="183.9" y="117.3" font-family="'Liberation Sans', sans-serif" font-size="4.4" text-anchor="middle" fill="#222" font-weight="normal">Merge</text><rect x="172.2" y="118.1" width="23.2" height="0.5" fill="#444"/><text x="237.0" y="117.3" font-family="'Liberation Sans', sans-serif" font-size="4.4" text-anchor="middle" fill="#222" font-weight="normal">Anti-Myc</text><rect x="225.1" y="118.1" width="23.8" height="0.5" fill="#444"/><text x="264.7" y="117.3" font-family="'Liberation Sans', sans-serif" font-size="4.4" text-anchor="middle" fill="#222" font-weight="normal">Anti-HA</text><rect x="252.8" y="118.1" width="23.8" height="0.5" fill="#444"/><text x="292.5" y="117.3" font-family="'Liberation Sans', sans-serif" font-size="4.4" text-anchor="middle" fill="#222" font-weight="normal">DAPI</text><rect x="280.6" y="118.1" width="23.8" height="0.5" fill="#444"/><text x="320.2" y="117.3" font-family="'Liberation Sans', sans-serif" font-size="4.4" text-anchor="middle" fill="#222" font-weight="normal">Merge</text><rect x="308.4" y="118.1" width="23.8" height="0.5" fill="#444"/><text x="292.8" y="181.8" font-family="'Liberation Sans', sans-serif" font-size="4.4" text-anchor="middle" fill="#222" font-weight="normal">DAPI</text><rect x="281.0" y="182.60000000000002" width="23.6" height="0.5" fill="#444"/><text x="320.3" y="181.8" font-family="'Liberation Sans', sans-serif" font-size="4.4" text-anchor="middle" fill="#222" font-weight="normal">Merge</text><rect x="308.6" y="182.60000000000002" width="23.6" height="0.5" fill="#444"/><text x="156.7" y="276.5" font-family="'Liberation Sans', sans-serif" font-size="4.4" text-anchor="middle" fill="#222" font-weight="normal">DAPI</text><rect x="144.8" y="277.3" width="23.8" height="0.5" fill="#444"/><text x="184.4" y="276.5" font-family="'Liberation Sans', sans-serif" font-size="4.4" text-anchor="middle" fill="#222" font-weight="normal">Merge</text><rect x="172.6" y="277.3" width="23.8" height="0.5" fill="#444"/><text x="128.8" y="276.5" font-family="'Liberation Sans', sans-serif" font-size="4.4" text-anchor="middle" fill="#222" font-weight="normal">Anti-BrUTP</text><text x="236.6" y="277.2" font-family="'Liberation Sans', sans-serif" font-size="4.4" text-anchor="middle" fill="#222" font-weight="normal">Anti-Myc</text><rect x="224.7" y="278.0" width="23.7" height="0.5" fill="#444"/><text x="264.3" y="277.2" font-family="'Liberation Sans', sans-serif" font-size="4.4" text-anchor="middle" fill="#222" font-weight="normal">Anti-BrUTP</text><rect x="252.4" y="278.0" width="23.7" height="0.5" fill="#444"/><text x="292.0" y="277.2" font-family="'Liberation Sans', sans-serif" font-size="4.4" text-anchor="middle" fill="#222" font-weight="normal">DAPI</text><rect x="280.1" y="278.0" width="23.7" height="0.5" fill="#444"/><text x="319.7" y="277.2" font-family="'Liberation Sans', sans-serif" font-size="4.4" text-anchor="middle" fill="#222" font-weight="normal">Merge</text><rect x="307.9" y="278.0" width="23.7" height="0.5" fill="#444"/><text x="76.5" y="132.2" font-family="'Liberation Sans', sans-serif" font-size="4.5" text-anchor="middle" fill="#2a2a2a" font-weight="normal">CAGGS-</text><text x="76.5" y="137.0" font-family="'Liberation Sans', sans-serif" font-size="4.5" text-anchor="middle" fill="#2a2a2a" font-weight="normal">N-Myc</text><text x="76.5" y="159.7" font-family="'Liberation Sans', sans-serif" font-size="4.5" text-anchor="middle" fill="#2a2a2a" font-weight="normal">CAGGS-</text><text x="76.5" y="164.5" font-family="'Liberation Sans', sans-serif" font-size="4.5" text-anchor="middle" fill="#2a2a2a" font-weight="normal">N₁₂₈-Myc</text><text x="76.5" y="187.2" font-family="'Liberation Sans', sans-serif" font-size="4.5" text-anchor="middle" fill="#2a2a2a" font-weight="normal">CAGGS-</text><text x="76.5" y="192.0" font-family="'Liberation Sans', sans-serif" font-size="4.5" text-anchor="middle" fill="#2a2a2a" font-weight="normal">HA-P</text><text x="76.5" y="207.5" font-family="'Liberation Sans', sans-serif" font-size="4.5" text-anchor="middle" fill="#2a2a2a" font-weight="normal">CAGGS-</text><text x="76.5" y="212.3" font-family="'Liberation Sans', sans-serif" font-size="4.5" text-anchor="middle" fill="#2a2a2a" font-weight="normal">N-Myc</text><text x="76.5" y="217.1" font-family="'Liberation Sans', sans-serif" font-size="4.5" text-anchor="middle" fill="#2a2a2a" font-weight="normal">+</text><text x="76.5" y="221.9" font-family="'Liberation Sans', sans-serif" font-size="4.5" text-anchor="middle" fill="#2a2a2a" font-weight="normal">CAGGS-</text><text x="76.5" y="226.7" font-family="'Liberation Sans', sans-serif" font-size="4.5" text-anchor="middle" fill="#2a2a2a" font-weight="normal">HA-P</text><text x="76.5" y="235.0" font-family="'Liberation Sans', sans-serif" font-size="4.5" text-anchor="middle" fill="#2a2a2a" font-weight="normal">CAGGS-</text><text x="76.5" y="239.8" font-family="'Liberation Sans', sans-serif" font-size="4.5" text-anchor="middle" fill="#2a2a2a" font-weight="normal">N₁₂₈-Myc</text><text x="76.5" y="244.6" font-family="'Liberation Sans', sans-serif" font-size="4.5" text-anchor="middle" fill="#2a2a2a" font-weight="normal">+</text><text x="76.5" y="249.4" font-family="'Liberation Sans', sans-serif" font-size="4.5" text-anchor="middle" fill="#2a2a2a" font-weight="normal">CAGGS-</text><text x="76.5" y="254.2" font-family="'Liberation Sans', sans-serif" font-size="4.5" text-anchor="middle" fill="#2a2a2a" font-weight="normal">HA-P</text><text x="213.0" y="129.8" font-family="'Liberation Sans', sans-serif" font-size="4.5" text-anchor="middle" fill="#2a2a2a" font-weight="normal">CAGGS-</text><text x="213.0" y="134.7" font-family="'Liberation Sans', sans-serif" font-size="4.5" text-anchor="middle" fill="#2a2a2a" font-weight="normal">N-Myc</text><text x="213.0" y="139.4" font-family="'Liberation Sans', sans-serif" font-size="4.5" text-anchor="middle" fill="#2a2a2a" font-weight="normal">+HPIV3</text><text x="213.0" y="157.5" font-family="'Liberation Sans', sans-serif" font-size="4.5" text-anchor="middle" fill="#2a2a2a" font-weight="normal">CAGGS-</text><text x="213.0" y="162.3" font-family="'Liberation Sans', sans-serif" font-size="4.5" text-anchor="middle" fill="#2a2a2a" font-weight="normal">HA-P</text><text x="213.0" y="167.1" font-family="'Liberation Sans', sans-serif" font-size="4.5" text-anchor="middle" fill="#2a2a2a" font-weight="normal">+HPIV3</text><text x="242.0" y="196.5" font-family="'Liberation Sans', sans-serif" font-size="4.5" text-anchor="middle" fill="#2a2a2a" font-weight="normal">L-eGFP</text><text x="242.0" y="201.3" font-family="'Liberation Sans', sans-serif" font-size="4.5" text-anchor="middle" fill="#2a2a2a" font-weight="normal">-HPIV3</text><text x="242.0" y="224.0" font-family="'Liberation Sans', sans-serif" font-size="4.5" text-anchor="middle" fill="#2a2a2a" font-weight="normal">L-eGFP</text><text x="242.0" y="228.8" font-family="'Liberation Sans', sans-serif" font-size="4.5" text-anchor="middle" fill="#2a2a2a" font-weight="normal">+HPIV3</text><text x="212.0" y="291.9" font-family="'Liberation Sans', sans-serif" font-size="4.5" text-anchor="middle" fill="#2a2a2a" font-weight="normal">CAGGS-</text><text x="212.0" y="296.7" font-family="'Liberation Sans', sans-serif" font-size="4.5" text-anchor="middle" fill="#2a2a2a" font-weight="normal">N-Myc</text><text x="212.0" y="319.6" font-family="'Liberation Sans', sans-serif" font-size="4.5" text-anchor="middle" fill="#2a2a2a" font-weight="normal">CAGGS-</text><text x="212.0" y="324.4" font-family="'Liberation Sans', sans-serif" font-size="4.5" text-anchor="middle" fill="#2a2a2a" font-weight="normal">HA-P</text><text x="212.0" y="340.1" font-family="'Liberation Sans', sans-serif" font-size="4.5" text-anchor="middle" fill="#2a2a2a" font-weight="normal">CAGGS-</text><text x="212.0" y="344.9" font-family="'Liberation Sans', sans-serif" font-size="4.5" text-anchor="middle" fill="#2a2a2a" font-weight="normal">N-Myc</text><text x="212.0" y="349.7" font-family="'Liberation Sans', sans-serif" font-size="4.5" text-anchor="middle" fill="#2a2a2a" font-weight="normal">+</text><text x="212.0" y="354.5" font-family="'Liberation Sans', sans-serif" font-size="4.5" text-anchor="middle" fill="#2a2a2a" font-weight="normal">CAGGS-</text><text x="212.0" y="359.3" font-family="'Liberation Sans', sans-serif" font-size="4.5" text-anchor="middle" fill="#2a2a2a" font-weight="normal">HA-P</text><text x="214.9" y="273.2" font-family="'Liberation Sans', sans-serif" font-size="4.5" text-anchor="middle" fill="#2a2a2a" font-weight="normal">+Mini-</text><text x="214.9" y="278.0" font-family="'Liberation Sans', sans-serif" font-size="4.5" text-anchor="middle" fill="#2a2a2a" font-weight="normal">genome</text><text x="106.7" y="271.6" font-family="'Liberation Sans', sans-serif" font-size="4.5" text-anchor="middle" fill="#2a2a2a" font-weight="normal">+Mini-</text><text x="106.7" y="276.4" font-family="'Liberation Sans', sans-serif" font-size="4.5" text-anchor="middle" fill="#2a2a2a" font-weight="normal">genome</text><text x="66.5" y="284" font-family="'Liberation Sans', sans-serif" font-size="4.5" text-anchor="start" fill="#333" font-weight="normal">BrUTP -</text><text x="91.2" y="284" font-family="'Liberation Sans', sans-serif" font-size="4.8" text-anchor="start" fill="#333" font-weight="normal">+</text><text x="66.5" y="289.8" font-family="'Liberation Sans', sans-serif" font-size="4.5" text-anchor="start" fill="#333" font-weight="normal">UTP</text><text x="80" y="289.8" font-family="'Liberation Sans', sans-serif" font-size="4.8" text-anchor="start" fill="#333" font-weight="normal">+</text><text x="91.2" y="289.8" font-family="'Liberation Sans', sans-serif" font-size="4.8" text-anchor="start" fill="#333" font-weight="normal">+</text><text x="100.3" y="293.6" font-family="'Liberation Sans', sans-serif" font-size="4.3" text-anchor="start" fill="#333" font-weight="normal">-HPIV3</text><text x="99.8" y="321.8" font-family="'Liberation Sans', sans-serif" font-size="4.3" text-anchor="start" fill="#333" font-weight="normal">+HPIV3</text><text x="82.5" y="336.5" font-family="'Liberation Sans', sans-serif" font-size="4.3" text-anchor="middle" fill="#444" font-weight="normal">1</text><text x="93" y="336.5" font-family="'Liberation Sans', sans-serif" font-size="4.3" text-anchor="middle" fill="#444" font-weight="normal">2</text>
<rect x="434.8" y="110.9" width="280" height="258" fill="#e9eef6" filter="url(#sh)"/><rect x="438.3" y="129" width="273.4" height="237.8" fill="#fff" stroke="#2e2626" stroke-width="1.6"/><line x1="486.8" y1="127.9" x2="486.8" y2="112.9" stroke="#f0c8b4" stroke-width="1.3"/><circle cx="486.8" cy="112.9" r="1.9" fill="#fff" stroke="#eab29a" stroke-width="0.8"/><line x1="486.8" y1="127.9" x2="500.0" y2="120.9" stroke="#f0c8b4" stroke-width="1.3"/><circle cx="500.0" cy="120.9" r="1.9" fill="#fff" stroke="#eab29a" stroke-width="0.8"/><line x1="486.8" y1="127.9" x2="499.1" y2="136.5" stroke="#f0c8b4" stroke-width="1.3"/><circle cx="499.1" cy="136.5" r="1.9" fill="#fff" stroke="#eab29a" stroke-width="0.8"/><line x1="486.8" y1="127.9" x2="486.8" y2="142.9" stroke="#f0c8b4" stroke-width="1.3"/><circle cx="486.8" cy="142.9" r="1.9" fill="#fff" stroke="#eab29a" stroke-width="0.8"/><line x1="486.8" y1="127.9" x2="474.8" y2="136.9" stroke="#f0c8b4" stroke-width="1.3"/><circle cx="474.8" cy="136.9" r="1.9" fill="#fff" stroke="#eab29a" stroke-width="0.8"/><line x1="486.8" y1="127.9" x2="473.6" y2="120.9" stroke="#f0c8b4" stroke-width="1.3"/><circle cx="473.6" cy="120.9" r="1.9" fill="#fff" stroke="#eab29a" stroke-width="0.8"/><circle cx="486.8" cy="127.9" r="7.6" fill="url(#vir)" stroke="#ebb59e" stroke-width="0.6"/><text x="507.8" y="139" font-family="'Liberation Sans', sans-serif" font-size="8" text-anchor="start" fill="#4a4a4a" font-weight="normal" >HPIV3</text><path d="M486.6,149.2 L486.6,170.6" stroke="#2a2424" stroke-width="1.2" fill="none"/><path d="M483.20000000000005,166.3 L486.6,170.9 L490.0,166.3" stroke="#2a2424" stroke-width="1.2" fill="none" stroke-linejoin="miter"/><text x="469.8" y="181" font-family="'Liberation Sans', sans-serif" font-size="7.4" text-anchor="start" fill="#555" font-weight="normal" >P</text><text x="504.8" y="181" font-family="'Liberation Sans', sans-serif" font-size="7.4" text-anchor="start" fill="#555" font-weight="normal" >N</text><line x1="475" y1="180.2" x2="479" y2="180.2" stroke="#888" stroke-width="0.5"/><line x1="500" y1="180.2" x2="504" y2="180.2" stroke="#888" stroke-width="0.5"/><rect x="479.0" y="177.8" width="14.0" height="4.6" fill="#a6dbb0" stroke="#6e8a74" stroke-width="0.5" transform="rotate(0.0 479.0 180.1)"/><circle cx="496.1" cy="179.9" r="3.8" fill="#fff27a" stroke="#a8a060" stroke-width="0.5"/><path d="M485.7,188.3 L485.7,210.29999999999998" stroke="#2a2424" stroke-width="1.2" fill="none"/><path d="M482.3,206.0 L485.7,210.6 L489.09999999999997,206.0" stroke="#2a2424" stroke-width="1.2" fill="none" stroke-linejoin="miter"/><path d="M458,264 A29.6,29.6 0 0 1 515.5,266" stroke="#c88848" stroke-width="3.7" fill="none" stroke-linecap="round"/><path d="M458,264 A29.6,29.6 0 0 1 515.5,266" stroke="#f4ab64" stroke-width="3.0" fill="none" stroke-linecap="round"/><path d="M459.2,254 A32,32 0 0 1 518.5,258.5" stroke="#c88848" stroke-width="3.7" fill="none" stroke-linecap="round"/><path d="M459.2,254 A32,32 0 0 1 518.5,258.5" stroke="#f4ab64" stroke-width="3.0" fill="none" stroke-linecap="round"/><path d="M460.8,244.4 A32.7,32.7 0 0 1 518.5,248" stroke="#c88848" stroke-width="3.5999999999999996" fill="none" stroke-linecap="round"/><path d="M460.8,244.4 A32.7,32.7 0 0 1 518.5,248" stroke="#f4ab64" stroke-width="2.9" fill="none" stroke-linecap="round"/><path d="M464.4,232.4 A34,34 0 0 1 486,222.8" stroke="#c88848" stroke-width="3.5999999999999996" fill="none" stroke-linecap="round"/><path d="M464.4,232.4 A34,34 0 0 1 486,222.8" stroke="#f4ab64" stroke-width="2.9" fill="none" stroke-linecap="round"/><path d="M490.5,222.6 A34,34 0 0 1 518,240" stroke="#c88848" stroke-width="3.5999999999999996" fill="none" stroke-linecap="round"/><path d="M490.5,222.6 A34,34 0 0 1 518,240" stroke="#f4ab64" stroke-width="2.9" fill="none" stroke-linecap="round"/><path d="M488,232 L488,226.5" stroke="#c88848" stroke-width="2.3" fill="none" stroke-linecap="round"/><path d="M488,232 L488,226.5" stroke="#f4ab64" stroke-width="1.6" fill="none" stroke-linecap="round"/><path d="M472,248 L473,243" stroke="#c88848" stroke-width="2.3" fill="none" stroke-linecap="round"/><path d="M472,248 L473,243" stroke="#f4ab64" stroke-width="1.6" fill="none" stroke-linecap="round"/><path d="M506,244 L508,239" stroke="#c88848" stroke-width="2.3" fill="none" stroke-linecap="round"/><path d="M506,244 L508,239" stroke="#f4ab64" stroke-width="1.6" fill="none" stroke-linecap="round"/><path d="M490,246 L490,241" stroke="#c88848" stroke-width="2.3" fill="none" stroke-linecap="round"/><path d="M490,246 L490,241" stroke="#f4ab64" stroke-width="1.6" fill="none" stroke-linecap="round"/><rect x="460.5" y="223.0" width="13.5" height="5" fill="#a6dbb0" stroke="#6e8a74" stroke-width="0.5" transform="rotate(-26.0 460.5 225.5)"/><circle cx="475.9" cy="217.5" r="3.9" fill="#fff27a" stroke="#a8a060" stroke-width="0.5"/><rect x="500.6" y="215.0" width="13.7" height="5" fill="#a6dbb0" stroke="#6e8a74" stroke-width="0.5" transform="rotate(23.7 500.6 217.5)"/><circle cx="516.4" cy="224.9" r="3.9" fill="#fff27a" stroke="#a8a060" stroke-width="0.5"/><rect x="454.0" y="231.7" width="13.0" height="5" fill="#a6dbb0" stroke="#6e8a74" stroke-width="0.5" transform="rotate(90.0 454.0 234.2)"/><circle cx="453.8" cy="251" r="3.9" fill="#fff27a" stroke="#a8a060" stroke-width="0.5"/><rect x="525.7" y="233.0" width="12.9" height="5" fill="#a6dbb0" stroke="#6e8a74" stroke-width="0.5" transform="rotate(90.0 525.7 235.5)"/><circle cx="525.9" cy="252.2" r="3.9" fill="#fff27a" stroke="#a8a060" stroke-width="0.5"/><rect x="478.0" y="255.1" width="13.8" height="5" fill="#a6dbb0" stroke="#6e8a74" stroke-width="0.5" transform="rotate(0.0 478.0 257.6)"/><circle cx="495.1" cy="257.6" r="3.9" fill="#fff27a" stroke="#a8a060" stroke-width="0.5"/><text x="521.3" y="272.8" font-family="'Liberation Sans', sans-serif" font-size="7.4" text-anchor="start" fill="#555" font-weight="normal" >ER</text><ellipse cx="552.3" cy="224.4" rx="3.6" ry="6.6" fill="#14b0ea" stroke="#1088b8" stroke-width="0.5"/><line x1="556" y1="216" x2="559" y2="216" stroke="#888" stroke-width="0.5"/><text x="559.5" y="217.5" font-family="'Liberation Sans', sans-serif" font-size="7.6" text-anchor="start" fill="#4a4a4a" font-weight="normal" >PI4KB</text><path d="M530.5,241.0 L547.5,230.2" stroke="#2a2424" stroke-width="1.2" fill="none"/><path d="M545.4,235.1 L547.5,230.2 L542.2,230.0" stroke="#2a2424" stroke-width="1.2" fill="none"/><path d="M535.8,241.2 L530.5,241.0 L532.6,236.1" stroke="#2a2424" stroke-width="1.2" fill="none"/><path d="M485.8,269.3 L485.8,290.5" stroke="#2a2424" stroke-width="1.2" fill="none"/><path d="M482.40000000000003,286.2 L485.8,290.8 L489.2,286.2" stroke="#2a2424" stroke-width="1.2" fill="none" stroke-linejoin="miter"/><path d="M464.2,307.4 Q466.4,304.4 468.6,301.4" stroke="#c88848" stroke-width="2.82" fill="none" stroke-linecap="round"/><path d="M464.2,307.4 Q468.7,306.1 468.6,301.4 Q464.1,302.7 464.2,307.4 Z" fill="#f4ab64" stroke="#c88848" stroke-width="1.0" stroke-linejoin="round"/><path d="M464.2,307.4 Q466.4,304.4 468.6,301.4" stroke="#f4ab64" stroke-width="2.02" fill="none" stroke-linecap="round"/><path d="M464.2,307.4 Q468.7,306.1 468.6,301.4 Q464.1,302.7 464.2,307.4 Z" fill="#f4ab64"/><path d="M474.2,300.0 Q479.5,309.0 486.8,316.6" stroke="#c88848" stroke-width="3.97" fill="none" stroke-linecap="round"/><path d="M474.2,300.0 Q476.0,311.7 486.8,316.6 Q483.0,306.4 474.2,300.0 Z" fill="#f4ab64" stroke="#c88848" stroke-width="1.0" stroke-linejoin="round"/><path d="M474.2,300.0 Q479.5,309.0 486.8,316.6" stroke="#f4ab64" stroke-width="3.17" fill="none" stroke-linecap="round"/><path d="M474.2,300.0 Q476.0,311.7 486.8,316.6 Q483.0,306.4 474.2,300.0 Z" fill="#f4ab64"/><path d="M480.8,305.7 Q483.1,302.9 485.4,300.0" stroke="#c88848" stroke-width="2.82" fill="none" stroke-linecap="round"/><path d="M480.8,305.7 Q485.3,304.6 485.4,300.0 Q480.9,301.1 480.8,305.7 Z" fill="#f4ab64" stroke="#c88848" stroke-width="1.0" stroke-linejoin="round"/><path d="M480.8,305.7 Q483.1,302.9 485.4,300.0" stroke="#f4ab64" stroke-width="2.02" fill="none" stroke-linecap="round"/><path d="M480.8,305.7 Q485.3,304.6 485.4,300.0 Q480.9,301.1 480.8,305.7 Z" fill="#f4ab64"/><path d="M470.4,308.4 Q471.1,308.3 471.8,308.2" stroke="#c88848" stroke-width="2.40" fill="none" stroke-linecap="round"/><path d="M470.4,308.4 Q471.3,309.9 471.8,308.2 Q470.9,306.7 470.4,308.4 Z" fill="#f4ab64" stroke="#c88848" stroke-width="1.0" stroke-linejoin="round"/><path d="M470.4,308.4 Q471.1,308.3 471.8,308.2" stroke="#f4ab64" stroke-width="1.60" fill="none" stroke-linecap="round"/><path d="M470.4,308.4 Q471.3,309.9 471.8,308.2 Q470.9,306.7 470.4,308.4 Z" fill="#f4ab64"/><path d="M497.4,299.2 Q504.6,307.5 503.4,318.4" stroke="#c88848" stroke-width="3.82" fill="none" stroke-linecap="round"/><path d="M497.4,299.2 Q500.6,308.7 503.4,318.4 Q508.6,306.2 497.4,299.2 Z" fill="#f4ab64" stroke="#c88848" stroke-width="1.0" stroke-linejoin="round"/><path d="M497.4,299.2 Q504.6,307.5 503.4,318.4" stroke="#f4ab64" stroke-width="3.02" fill="none" stroke-linecap="round"/><path d="M497.4,299.2 Q500.6,308.7 503.4,318.4 Q508.6,306.2 497.4,299.2 Z" fill="#f4ab64"/><path d="M493.9,309.7 Q495.5,307.6 497.2,305.6" stroke="#c88848" stroke-width="2.53" fill="none" stroke-linecap="round"/><path d="M493.9,309.7 Q497.4,309.2 497.2,305.6 Q493.7,306.1 493.9,309.7 Z" fill="#f4ab64" stroke="#c88848" stroke-width="1.0" stroke-linejoin="round"/><path d="M493.9,309.7 Q495.5,307.6 497.2,305.6" stroke="#f4ab64" stroke-width="1.73" fill="none" stroke-linecap="round"/><path d="M493.9,309.7 Q497.4,309.2 497.2,305.6 Q493.7,306.1 493.9,309.7 Z" fill="#f4ab64"/><path d="M492.2,314.6 Q492.9,314.6 493.6,314.6" stroke="#c88848" stroke-width="2.40" fill="none" stroke-linecap="round"/><path d="M492.2,314.6 Q492.9,316.2 493.6,314.6 Q492.9,313.0 492.2,314.6 Z" fill="#f4ab64" stroke="#c88848" stroke-width="1.0" stroke-linejoin="round"/><path d="M492.2,314.6 Q492.9,314.6 493.6,314.6" stroke="#f4ab64" stroke-width="1.60" fill="none" stroke-linecap="round"/><path d="M492.2,314.6 Q492.9,316.2 493.6,314.6 Q492.9,313.0 492.2,314.6 Z" fill="#f4ab64"/><path d="M464.2,320.9 Q465.7,318.8 467.2,316.6" stroke="#c88848" stroke-width="2.53" fill="none" stroke-linecap="round"/><path d="M464.2,320.9 Q467.7,320.1 467.2,316.6 Q463.7,317.4 464.2,320.9 Z" fill="#f4ab64" stroke="#c88848" stroke-width="1.0" stroke-linejoin="round"/><path d="M464.2,320.9 Q465.7,318.8 467.2,316.6" stroke="#f4ab64" stroke-width="1.73" fill="none" stroke-linecap="round"/><path d="M464.2,320.9 Q467.7,320.1 467.2,316.6 Q463.7,317.4 464.2,320.9 Z" fill="#f4ab64"/><path d="M470.6,312.4 Q475.9,321.3 483.2,328.8" stroke="#c88848" stroke-width="3.97" fill="none" stroke-linecap="round"/><path d="M470.6,312.4 Q472.5,324.0 483.2,328.8 Q479.4,318.7 470.6,312.4 Z" fill="#f4ab64" stroke="#c88848" stroke-width="1.0" stroke-linejoin="round"/><path d="M470.6,312.4 Q475.9,321.3 483.2,328.8" stroke="#f4ab64" stroke-width="3.17" fill="none" stroke-linecap="round"/><path d="M470.6,312.4 Q472.5,324.0 483.2,328.8 Q479.4,318.7 470.6,312.4 Z" fill="#f4ab64"/><path d="M479.8,321.9 Q480.4,321.4 481.0,320.9" stroke="#c88848" stroke-width="2.40" fill="none" stroke-linecap="round"/><path d="M479.8,321.9 Q481.3,322.5 481.0,320.9 Q479.5,320.3 479.8,321.9 Z" fill="#f4ab64" stroke="#c88848" stroke-width="1.0" stroke-linejoin="round"/><path d="M479.8,321.9 Q480.4,321.4 481.0,320.9" stroke="#f4ab64" stroke-width="1.60" fill="none" stroke-linecap="round"/><path d="M479.8,321.9 Q481.3,322.5 481.0,320.9 Q479.5,320.3 479.8,321.9 Z" fill="#f4ab64"/><path d="M487.2,329.4 Q488.4,323.7 492.4,319.4" stroke="#c88848" stroke-width="2.96" fill="none" stroke-linecap="round"/><path d="M487.2,329.4 Q491.0,325.0 492.4,319.4 Q485.7,322.3 487.2,329.4 Z" fill="#f4ab64" stroke="#c88848" stroke-width="1.0" stroke-linejoin="round"/><path d="M487.2,329.4 Q488.4,323.7 492.4,319.4" stroke="#f4ab64" stroke-width="2.16" fill="none" stroke-linecap="round"/><path d="M487.2,329.4 Q491.0,325.0 492.4,319.4 Q485.7,322.3 487.2,329.4 Z" fill="#f4ab64"/><path d="M500.8,327.6 Q502.9,324.6 504.9,321.6" stroke="#c88848" stroke-width="2.82" fill="none" stroke-linecap="round"/><path d="M500.8,327.6 Q505.2,326.2 504.9,321.6 Q500.5,323.0 500.8,327.6 Z" fill="#f4ab64" stroke="#c88848" stroke-width="1.0" stroke-linejoin="round"/><path d="M500.8,327.6 Q502.9,324.6 504.9,321.6" stroke="#f4ab64" stroke-width="2.02" fill="none" stroke-linecap="round"/><path d="M500.8,327.6 Q505.2,326.2 504.9,321.6 Q500.5,323.0 500.8,327.6 Z" fill="#f4ab64"/><path d="M469.8,325.6 Q483.0,334.7 498.4,330.4" stroke="#c88848" stroke-width="3.97" fill="none" stroke-linecap="round"/><path d="M469.8,325.6 Q482.2,339.0 498.4,330.4 Q483.7,330.4 469.8,325.6 Z" fill="#f4ab64" stroke="#c88848" stroke-width="1.0" stroke-linejoin="round"/><path d="M469.8,325.6 Q483.0,334.7 498.4,330.4" stroke="#f4ab64" stroke-width="3.17" fill="none" stroke-linecap="round"/><path d="M469.8,325.6 Q482.2,339.0 498.4,330.4 Q483.7,330.4 469.8,325.6 Z" fill="#f4ab64"/><rect x="448.2" y="338.5" width="71.3" height="12.5" fill="#dcd8f0" stroke="#8a88a8" stroke-width="0.8"/><text x="451.4" y="347.6" font-family="'Liberation Sans', sans-serif" font-size="8" text-anchor="start" fill="#3a3a3a" font-weight="normal" textLength="66.1" lengthAdjust="spacingAndGlyphs">ER fragmentation</text><path d="M528.8,314.4 L571.0,306.6" stroke="#2a2424" stroke-width="1.2" fill="none"/><path d="M566.7,310.7 L571.0,306.6 L565.5,304.4" stroke="#2a2424" stroke-width="1.2" fill="none"/><rect x="593.1" y="187.2" width="84.3" height="12.2" fill="#dcd8f0" stroke="#8a88a8" stroke-width="0.8"/><text x="598.4" y="196.1" font-family="'Liberation Sans', sans-serif" font-size="8" text-anchor="start" fill="#3a3a3a" font-weight="normal" textLength="75.4" lengthAdjust="spacingAndGlyphs">HPIV3&#160;&#160;Replication</text><path d="M634.9,230.9 L634.9,209.1" stroke="#2a2424" stroke-width="1.2" fill="none"/><path d="M631.5,214.0 L634.9,209.4 L638.3,214.0" stroke="#2a2424" stroke-width="1.2" fill="none" stroke-linejoin="miter"/><circle cx="640" cy="290.8" r="33.2" fill="#fff" stroke="#b4b4b4" stroke-width="0.6"/><path d="M607.4,258.6 Q616.6,249.5 629.5,248.4" stroke="#c88848" stroke-width="3.39" fill="none" stroke-linecap="round"/><path d="M607.4,258.6 Q618.1,252.8 629.5,248.4 Q615.1,246.2 607.4,258.6 Z" fill="#f4ab64" stroke="#c88848" stroke-width="1.0" stroke-linejoin="round"/><path d="M607.4,258.6 Q616.6,249.5 629.5,248.4" stroke="#f4ab64" stroke-width="2.59" fill="none" stroke-linecap="round"/><path d="M607.4,258.6 Q618.1,252.8 629.5,248.4 Q615.1,246.2 607.4,258.6 Z" fill="#f4ab64"/><path d="M623.5,253.2 Q626.6,252.5 629.8,251.8" stroke="#c88848" stroke-width="2.40" fill="none" stroke-linecap="round"/><path d="M623.5,253.2 Q627.1,254.6 629.8,251.8 Q626.2,250.4 623.5,253.2 Z" fill="#f4ab64" stroke="#c88848" stroke-width="1.0" stroke-linejoin="round"/><path d="M623.5,253.2 Q626.6,252.5 629.8,251.8" stroke="#f4ab64" stroke-width="1.60" fill="none" stroke-linecap="round"/><path d="M623.5,253.2 Q627.1,254.6 629.8,251.8 Q626.2,250.4 623.5,253.2 Z" fill="#f4ab64"/><path d="M636.2,251.4 Q637.8,249.5 639.4,247.6" stroke="#c88848" stroke-width="2.53" fill="none" stroke-linecap="round"/><path d="M636.2,251.4 Q639.6,251.0 639.4,247.6 Q636.0,248.0 636.2,251.4 Z" fill="#f4ab64" stroke="#c88848" stroke-width="1.0" stroke-linejoin="round"/><path d="M636.2,251.4 Q637.8,249.5 639.4,247.6" stroke="#f4ab64" stroke-width="1.73" fill="none" stroke-linecap="round"/><path d="M636.2,251.4 Q639.6,251.0 639.4,247.6 Q636.0,248.0 636.2,251.4 Z" fill="#f4ab64"/><path d="M597.6,282.5 Q600.1,268.7 611.2,260.2" stroke="#c88848" stroke-width="3.39" fill="none" stroke-linecap="round"/><path d="M597.6,282.5 Q603.2,270.6 611.2,260.2 Q597.1,266.9 597.6,282.5 Z" fill="#f4ab64" stroke="#c88848" stroke-width="1.0" stroke-linejoin="round"/><path d="M597.6,282.5 Q600.1,268.7 611.2,260.2" stroke="#f4ab64" stroke-width="2.59" fill="none" stroke-linecap="round"/><path d="M597.6,282.5 Q603.2,270.6 611.2,260.2 Q597.1,266.9 597.6,282.5 Z" fill="#f4ab64"/><path d="M610.8,265.0 Q611.6,267.8 612.4,270.6" stroke="#c88848" stroke-width="2.40" fill="none" stroke-linecap="round"/><path d="M610.8,265.0 Q609.7,268.3 612.4,270.6 Q613.5,267.3 610.8,265.0 Z" fill="#f4ab64" stroke="#c88848" stroke-width="1.0" stroke-linejoin="round"/><path d="M610.8,265.0 Q611.6,267.8 612.4,270.6" stroke="#f4ab64" stroke-width="1.60" fill="none" stroke-linecap="round"/><path d="M610.8,265.0 Q609.7,268.3 612.4,270.6 Q613.5,267.3 610.8,265.0 Z" fill="#f4ab64"/><path d="M603.6,281.8 Q605.4,288.1 605.2,294.6" stroke="#c88848" stroke-width="2.53" fill="none" stroke-linecap="round"/><path d="M603.6,281.8 Q603.0,288.4 605.2,294.6 Q607.8,287.8 603.6,281.8 Z" fill="#f4ab64" stroke="#c88848" stroke-width="1.0" stroke-linejoin="round"/><path d="M603.6,281.8 Q605.4,288.1 605.2,294.6" stroke="#f4ab64" stroke-width="1.73" fill="none" stroke-linecap="round"/><path d="M603.6,281.8 Q603.0,288.4 605.2,294.6 Q607.8,287.8 603.6,281.8 Z" fill="#f4ab64"/><path d="M594.2,303.8 Q596.2,299.3 598.2,294.8" stroke="#c88848" stroke-width="2.67" fill="none" stroke-linecap="round"/><path d="M594.2,303.8 Q598.6,300.4 598.2,294.8 Q593.8,298.2 594.2,303.8 Z" fill="#f4ab64" stroke="#c88848" stroke-width="1.0" stroke-linejoin="round"/><path d="M594.2,303.8 Q596.2,299.3 598.2,294.8" stroke="#f4ab64" stroke-width="1.87" fill="none" stroke-linecap="round"/><path d="M594.2,303.8 Q598.6,300.4 598.2,294.8 Q593.8,298.2 594.2,303.8 Z" fill="#f4ab64"/><path d="M602.4,299.6 Q611.6,306.0 616.2,316.2" stroke="#c88848" stroke-width="3.39" fill="none" stroke-linecap="round"/><path d="M602.4,299.6 Q608.8,308.3 616.2,316.2 Q614.4,303.7 602.4,299.6 Z" fill="#f4ab64" stroke="#c88848" stroke-width="1.0" stroke-linejoin="round"/><path d="M602.4,299.6 Q611.6,306.0 616.2,316.2" stroke="#f4ab64" stroke-width="2.59" fill="none" stroke-linecap="round"/><path d="M602.4,299.6 Q608.8,308.3 616.2,316.2 Q614.4,303.7 602.4,299.6 Z" fill="#f4ab64"/><path d="M597.6,313.6 Q598.2,310.7 598.8,307.8" stroke="#c88848" stroke-width="2.40" fill="none" stroke-linecap="round"/><path d="M597.6,313.6 Q600.2,311.1 598.8,307.8 Q596.2,310.3 597.6,313.6 Z" fill="#f4ab64" stroke="#c88848" stroke-width="1.0" stroke-linejoin="round"/><path d="M597.6,313.6 Q598.2,310.7 598.8,307.8" stroke="#f4ab64" stroke-width="1.60" fill="none" stroke-linecap="round"/><path d="M597.6,313.6 Q600.2,311.1 598.8,307.8 Q596.2,310.3 597.6,313.6 Z" fill="#f4ab64"/><path d="M604.4,316.2 Q605.2,315.7 606.0,315.2" stroke="#c88848" stroke-width="2.40" fill="none" stroke-linecap="round"/><path d="M604.4,316.2 Q606.2,317.2 606.0,315.2 Q604.2,314.2 604.4,316.2 Z" fill="#f4ab64" stroke="#c88848" stroke-width="1.0" stroke-linejoin="round"/><path d="M604.4,316.2 Q605.2,315.7 606.0,315.2" stroke="#f4ab64" stroke-width="1.60" fill="none" stroke-linecap="round"/><path d="M604.4,316.2 Q606.2,317.2 606.0,315.2 Q604.2,314.2 604.4,316.2 Z" fill="#f4ab64"/><path d="M608.4,336.2 Q611.6,330.6 614.8,325.0" stroke="#c88848" stroke-width="2.82" fill="none" stroke-linecap="round"/><path d="M608.4,336.2 Q614.0,332.0 614.8,325.0 Q609.2,329.2 608.4,336.2 Z" fill="#f4ab64" stroke="#c88848" stroke-width="1.0" stroke-linejoin="round"/><path d="M608.4,336.2 Q611.6,330.6 614.8,325.0" stroke="#f4ab64" stroke-width="2.02" fill="none" stroke-linecap="round"/><path d="M608.4,336.2 Q614.0,332.0 614.8,325.0 Q609.2,329.2 608.4,336.2 Z" fill="#f4ab64"/><path d="M620.4,322.4 Q636.8,322.1 649.6,332.4" stroke="#c88848" stroke-width="3.68" fill="none" stroke-linecap="round"/><path d="M620.4,322.4 Q635.5,325.9 649.6,332.4 Q638.1,318.3 620.4,322.4 Z" fill="#f4ab64" stroke="#c88848" stroke-width="1.0" stroke-linejoin="round"/><path d="M620.4,322.4 Q636.8,322.1 649.6,332.4" stroke="#f4ab64" stroke-width="2.88" fill="none" stroke-linecap="round"/><path d="M620.4,322.4 Q635.5,325.9 649.6,332.4 Q638.1,318.3 620.4,322.4 Z" fill="#f4ab64"/><path d="M636.6,326.8 Q637.4,326.2 638.2,325.6" stroke="#c88848" stroke-width="2.40" fill="none" stroke-linecap="round"/><path d="M636.6,326.8 Q638.4,327.5 638.2,325.6 Q636.4,324.9 636.6,326.8 Z" fill="#f4ab64" stroke="#c88848" stroke-width="1.0" stroke-linejoin="round"/><path d="M636.6,326.8 Q637.4,326.2 638.2,325.6" stroke="#f4ab64" stroke-width="1.60" fill="none" stroke-linecap="round"/><path d="M636.6,326.8 Q638.4,327.5 638.2,325.6 Q636.4,324.9 636.6,326.8 Z" fill="#f4ab64"/><path d="M657.4,330.4 Q662.6,321.8 672.2,318.8" stroke="#c88848" stroke-width="3.25" fill="none" stroke-linecap="round"/><path d="M657.4,330.4 Q664.7,324.4 672.2,318.8 Q660.5,319.1 657.4,330.4 Z" fill="#f4ab64" stroke="#c88848" stroke-width="1.0" stroke-linejoin="round"/><path d="M657.4,330.4 Q662.6,321.8 672.2,318.8" stroke="#f4ab64" stroke-width="2.45" fill="none" stroke-linecap="round"/><path d="M657.4,330.4 Q664.7,324.4 672.2,318.8 Q660.5,319.1 657.4,330.4 Z" fill="#f4ab64"/><path d="M663.2,318.4 Q665.3,315.6 667.4,312.8" stroke="#c88848" stroke-width="2.40" fill="none" stroke-linecap="round"/><path d="M663.2,318.4 Q667.1,316.9 667.4,312.8 Q663.5,314.3 663.2,318.4 Z" fill="#f4ab64" stroke="#c88848" stroke-width="1.0" stroke-linejoin="round"/><path d="M663.2,318.4 Q665.3,315.6 667.4,312.8" stroke="#f4ab64" stroke-width="1.60" fill="none" stroke-linecap="round"/><path d="M663.2,318.4 Q667.1,316.9 667.4,312.8 Q663.5,314.3 663.2,318.4 Z" fill="#f4ab64"/><path d="M670.6,309.8 Q672.5,307.7 674.4,305.6" stroke="#c88848" stroke-width="2.40" fill="none" stroke-linecap="round"/><path d="M670.6,309.8 Q674.0,309.0 674.4,305.6 Q671.0,306.4 670.6,309.8 Z" fill="#f4ab64" stroke="#c88848" stroke-width="1.0" stroke-linejoin="round"/><path d="M670.6,309.8 Q672.5,307.7 674.4,305.6" stroke="#f4ab64" stroke-width="1.60" fill="none" stroke-linecap="round"/><path d="M670.6,309.8 Q674.0,309.0 674.4,305.6 Q671.0,306.4 670.6,309.8 Z" fill="#f4ab64"/><path d="M674.4,304.0 Q676.2,301.8 678.0,299.6" stroke="#c88848" stroke-width="2.40" fill="none" stroke-linecap="round"/><path d="M674.4,304.0 Q677.7,303.1 678.0,299.6 Q674.7,300.5 674.4,304.0 Z" fill="#f4ab64" stroke="#c88848" stroke-width="1.0" stroke-linejoin="round"/><path d="M674.4,304.0 Q676.2,301.8 678.0,299.6" stroke="#f4ab64" stroke-width="1.60" fill="none" stroke-linecap="round"/><path d="M674.4,304.0 Q677.7,303.1 678.0,299.6 Q674.7,300.5 674.4,304.0 Z" fill="#f4ab64"/><path d="M673.0,274.6 Q678.0,284.0 676.8,294.6" stroke="#c88848" stroke-width="3.25" fill="none" stroke-linecap="round"/><path d="M673.0,274.6 Q674.7,284.6 676.8,294.6 Q681.4,283.4 673.0,274.6 Z" fill="#f4ab64" stroke="#c88848" stroke-width="1.0" stroke-linejoin="round"/><path d="M673.0,274.6 Q678.0,284.0 676.8,294.6" stroke="#f4ab64" stroke-width="2.45" fill="none" stroke-linecap="round"/><path d="M673.0,274.6 Q674.7,284.6 676.8,294.6 Q681.4,283.4 673.0,274.6 Z" fill="#f4ab64"/><path d="M674.0,319.6 Q674.6,321.9 675.2,324.2" stroke="#c88848" stroke-width="2.40" fill="none" stroke-linecap="round"/><path d="M674.0,319.6 Q672.9,322.4 675.2,324.2 Q676.3,321.4 674.0,319.6 Z" fill="#f4ab64" stroke="#c88848" stroke-width="1.0" stroke-linejoin="round"/><path d="M674.0,319.6 Q674.6,321.9 675.2,324.2" stroke="#f4ab64" stroke-width="1.60" fill="none" stroke-linecap="round"/><path d="M674.0,319.6 Q672.9,322.4 675.2,324.2 Q676.3,321.4 674.0,319.6 Z" fill="#f4ab64"/><path d="M639.5,255.5 Q657.6,258.0 669.6,271.8" stroke="#c88848" stroke-width="3.39" fill="none" stroke-linecap="round"/><path d="M639.5,255.5 Q655.9,261.2 669.6,271.8 Q659.3,254.9 639.5,255.5 Z" fill="#f4ab64" stroke="#c88848" stroke-width="1.0" stroke-linejoin="round"/><path d="M639.5,255.5 Q657.6,258.0 669.6,271.8" stroke="#f4ab64" stroke-width="2.59" fill="none" stroke-linecap="round"/><path d="M639.5,255.5 Q655.9,261.2 669.6,271.8 Q659.3,254.9 639.5,255.5 Z" fill="#f4ab64"/><rect x="627" y="270" width="13.1" height="5.1" fill="#d97b8b"/><line x1="623" y1="272.5" x2="627" y2="272.5" stroke="#777" stroke-width="0.4"/><rect x="652" y="275.5" width="13.2" height="5.2" fill="#d97b8b"/><text x="611" y="279.7" font-family="'Liberation Sans', sans-serif" font-size="5.4" text-anchor="start" fill="#444" font-weight="normal" >Calnexin</text><rect x="608.2" y="286.4" width="13.1" height="5" fill="#a8c828"/><line x1="621.3" y1="289" x2="625" y2="289" stroke="#777" stroke-width="0.4"/><text x="618.2" y="297.6" font-family="'Liberation Sans', sans-serif" font-size="5.8" text-anchor="start" fill="#444" font-weight="normal" >PDI</text><rect x="644.1" y="307" width="13.3" height="5.4" fill="#a8c828"/><rect x="650.0" y="270.5" width="6.5" height="4" fill="#a6dbb0" stroke="#6e8a74" stroke-width="0.5" transform="rotate(-90.0 650.0 272.5)"/><circle cx="644.9" cy="279.5" r="3.5" fill="#fff27a" stroke="#a8a060" stroke-width="0.5"/><rect x="-1.8" y="0" width="4" height="12" fill="#a6dbb0" stroke="#6e8a74" stroke-width="0.5" transform="translate(646.5,278) rotate(-155)"/><circle cx="644.9" cy="279.5" r="3.5" fill="#fff27a" stroke="#a8a060" stroke-width="0.5"/><ellipse cx="652.6" cy="264.8" rx="5.6" ry="3.4" fill="#14b0ea" transform="rotate(22 652.6 264.8)"/><rect x="650.0" y="294.1" width="15.0" height="4.2" fill="#a6dbb0" stroke="#6e8a74" stroke-width="0.5" transform="rotate(0.0 650.0 296.2)"/><circle cx="649.5" cy="296.1" r="3.5" fill="#fff27a" stroke="#a8a060" stroke-width="0.5"/><ellipse cx="667.4" cy="296.4" rx="2.7" ry="5.8" fill="#14b0ea"/><rect x="619.0" y="304.3" width="14.0" height="4.2" fill="#a6dbb0" stroke="#6e8a74" stroke-width="0.5" transform="rotate(0.0 619.0 306.4)"/><circle cx="618.6" cy="305.8" r="3.5" fill="#fff27a" stroke="#a8a060" stroke-width="0.5"/><ellipse cx="635.4" cy="307" rx="2.7" ry="5.8" fill="#14b0ea"/><text x="641.7" y="245.5" font-family="'Liberation Sans', sans-serif" font-size="7.7" text-anchor="start" fill="#444" font-weight="normal" >PI</text><line x1="649.8" y1="245.2" x2="652.8" y2="245.2" stroke="#777" stroke-width="0.4"/><path d="M651.1,255.9 L652.2,252 M655.4,255.9 L656.5,252.2 M664,261.3 L667,258 M667.3,263.5 L670,260.2" stroke="#999" stroke-width="0.5"/><path d="M653.2,252.4 L655.6,252.4 L653.7,256.2 L651.8,256.2 Z M665.2,261.8 L667.6,259.2 L669.1,261 L666.5,263 Z" fill="#fff"/><path d="M655.7,248.6 L658.53,246.22 A3.7,3.7 0 1 1 654.14,245.25 Z" fill="#a8f2f6" stroke="#7cc8d4" stroke-width="0.4"/><path d="M670.4,257.3 L673.97,258.26 A3.7,3.7 0 1 1 672.25,254.10 Z" fill="#a8f2f6" stroke="#7cc8d4" stroke-width="0.4"/><rect x="672.6" y="253.9" width="2.1" height="2.1" fill="#e01818"/><line x1="675.2" y1="258.3" x2="678.6" y2="258.3" stroke="#777" stroke-width="0.4"/><text x="680.2" y="261" font-family="'Liberation Sans', sans-serif" font-size="7.7" text-anchor="start" fill="#444" font-weight="normal" >PI4P</text><path d="M652.6,247.6 C644.5,248.8 643.4,258.5 647.2,262.6" stroke="#333" stroke-width="0.75" fill="none"/><path d="M645.2,260.4 L647.6,263.2 L648.4,259.8 Z" fill="#222"/><path d="M658.2,268.6 C664,272.6 673.6,270.6 674.3,261.2" stroke="#333" stroke-width="0.75" fill="none"/><path d="M672.6,262.4 L674.4,259.6 L676,262.6 Z" fill="#222"/><rect x="611" y="339" width="51.3" height="12.4" fill="#dcd8f0" stroke="#8a88a8" stroke-width="0.8"/><text x="616.7" y="348.0" font-family="'Liberation Sans', sans-serif" font-size="8" text-anchor="start" fill="#3a3a3a" font-weight="normal" textLength="43.6" lengthAdjust="spacingAndGlyphs">HPIV3&#160;&#160;IBs</text>
<rect x="804.2" y="110.8" width="266.2" height="258.2" fill="#fff" filter="url(#sh)"/><rect x="810.6" y="117.8" width="252.6" height="243" rx="34" ry="34" fill="url(#beige)" stroke="#fdfcf8" stroke-width="1.8" filter="url(#sh2)"/><text x="999.8" y="137.6" font-family="'Liberation Sans', sans-serif" font-size="10" text-anchor="start" fill="#9a9a9a" font-weight="normal" >Cytoplasm</text><text x="836" y="147.6" font-family="'Liberation Sans', sans-serif" font-size="8.2" text-anchor="start" fill="#111" font-weight="bold" >vRNA</text><path d="M831.7,159.3 C849.7,156.3 858.0,152.3 863.0,145.7 C868.0,137.0 878,133.0 891,132.0" stroke="#587aa2" stroke-width="0.85" fill="none"/><path d="M836.7,165.4 C854.7,162.4 859.8,158.4 865.1,151.8 C870.1,143.1 878,139.1 891,138.1" stroke="#587aa2" stroke-width="0.85" fill="none"/><path d="M839.3,171.6 C857.3,168.6 861.7,164.6 867.3,158.0 C872.3,149.3 878,145.3 893.5,144.3" stroke="#587aa2" stroke-width="0.85" fill="none"/><path d="M840,177.8 C858,174.8 863.5,170.8 869.5,164.2 C874.5,155.5 878,151.5 894,150.5" stroke="#587aa2" stroke-width="0.85" fill="none"/><path d="M867.3,189.9 L867.3,173.8" stroke="#000" stroke-width="1.4" fill="none" /><path d="M867.3,169.3 L869.5,173.8 L865.1,173.8 Z" fill="#000"/><text x="943.6" y="152.3" font-family="'Liberation Sans', sans-serif" font-size="8.2" text-anchor="start" fill="#111" font-weight="bold" >vRNA</text><path d="M938.5,172.0 C956.5,169.0 964,166.0 969.0,158.1 C973.0,149.1 985,145.1 998.2,144.1" stroke="#587aa2" stroke-width="0.85" fill="none"/><path d="M940.9,180.2 C958.9,177.2 964,174.2 970.6,166.2 C974.6,157.3 985,153.3 1000.6,152.3" stroke="#587aa2" stroke-width="0.85" fill="none"/><path d="M975.0,189.5 L975.0,173.9" stroke="#e82020" stroke-width="1.4" fill="none" stroke-dasharray="3.2,2"/><path d="M975.0,169.4 L977.2,173.9 L972.8,173.9 Z" fill="#e82020"/><circle cx="864.3" cy="211.9" r="19.7" fill="#cccbfa"/><text x="864.3" y="215.2" font-family="'Liberation Sans', sans-serif" font-size="9" text-anchor="middle" fill="#111" font-weight="normal" >IB</text><ellipse cx="974.5" cy="211.7" rx="14.4" ry="12.4" fill="#cccbfa" transform="rotate(0 974.5 211.7)" /><text x="974.5" y="215" font-family="'Liberation Sans', sans-serif" font-size="9" text-anchor="middle" fill="#111" font-weight="normal" >IB</text><ellipse cx="914.9" cy="214.4" rx="6.5" ry="5.2" fill="#cccbfa" transform="rotate(0 914.9 214.4)" /><text x="914.9" y="216.1" font-family="'Liberation Sans', sans-serif" font-size="4.8" text-anchor="middle" fill="#666" font-weight="normal" >IB</text><ellipse cx="934.5" cy="220.2" rx="6.5" ry="5.2" fill="#cccbfa" transform="rotate(0 934.5 220.2)" /><text x="934.5" y="221.89999999999998" font-family="'Liberation Sans', sans-serif" font-size="4.8" text-anchor="middle" fill="#666" font-weight="normal" >IB</text><ellipse cx="907.4" cy="226.9" rx="6.5" ry="5.2" fill="#cccbfa" transform="rotate(0 907.4 226.9)" /><text x="907.4" y="228.6" font-family="'Liberation Sans', sans-serif" font-size="4.8" text-anchor="middle" fill="#666" font-weight="normal" >IB</text><g transform="translate(851.8,242.6) rotate(-4.82)"><rect x="0" y="-4.9" width="173.9" height="9.8" fill="url(#mt)"/></g><text x="1028.7" y="229.8" font-family="'Liberation Sans', sans-serif" font-size="8.2" text-anchor="start" fill="#111" font-weight="bold" >MT</text><circle cx="883.7" cy="229.8" r="5.2" fill="#e3232a"/><text x="883.7" y="231.60000000000002" font-family="'Liberation Sans', sans-serif" font-size="5" text-anchor="middle" fill="#222" font-weight="normal" >Ac</text><ellipse cx="873.1" cy="264.2" rx="14.5" ry="9" fill="#8dc63f" transform="rotate(-18 873.1 264.2)" /><text x="873.1" y="266.5" font-family="'Liberation Sans', sans-serif" font-size="6.2" text-anchor="middle" fill="#111" font-weight="bold" transform="rotate(-18 873.1 264.2)">α-TAT1</text><ellipse cx="896.1" cy="262.3" rx="9" ry="6.5" fill="#d5ece2" transform="rotate(0 896.1 262.3)" /><text x="896.5" y="265.5" font-family="'Liberation Sans', sans-serif" font-size="8" text-anchor="middle" fill="#111" font-weight="bold" font-style="italic">N</text><circle cx="873.9" cy="251.4" r="5.5" fill="#e3232a"/><text x="873.9" y="253.20000000000002" font-family="'Liberation Sans', sans-serif" font-size="5" text-anchor="middle" fill="#222" font-weight="normal" >Ac</text><circle cx="884.3" cy="248.9" r="5" fill="#e3232a"/><text x="884.3" y="250.70000000000002" font-family="'Liberation Sans', sans-serif" font-size="5" text-anchor="middle" fill="#222" font-weight="normal" >Ac</text><ellipse cx="897.1" cy="250.1" rx="13.5" ry="7" fill="#f59a60" transform="rotate(0 897.1 250.1)" /><text x="897.1" y="253.5" font-family="'Liberation Sans', sans-serif" font-size="9" text-anchor="middle" fill="#111" font-weight="bold" >P</text><circle cx="955.2" cy="225.2" r="5.3" fill="#fff"/><text x="955.2" y="227.0" font-family="'Liberation Sans', sans-serif" font-size="5" text-anchor="middle" fill="#222" font-weight="normal" >Ac</text><ellipse cx="997.6" cy="250.5" rx="10" ry="8" fill="#d5ece2" transform="rotate(0 997.6 250.5)" /><text x="997.6" y="254" font-family="'Liberation Sans', sans-serif" font-size="8" text-anchor="middle" fill="#111" font-weight="bold" font-style="italic">N</text><ellipse cx="999.5" cy="238.2" rx="13" ry="7" fill="#f59a60" transform="rotate(0 999.5 238.2)" /><text x="999.5" y="241.5" font-family="'Liberation Sans', sans-serif" font-size="9" text-anchor="middle" fill="#111" font-weight="bold" >P</text><ellipse cx="972.4" cy="243.0" rx="14" ry="7.5" fill="#fff" transform="rotate(-10 972.4 243.0)" stroke="#bbb" stroke-width="0.5" stroke-dasharray="1,1"/><text x="972.4" y="245.3" font-family="'Liberation Sans', sans-serif" font-size="6.2" text-anchor="middle" fill="#111" font-weight="bold" transform="rotate(-10 972.4 243)">α-TAT1</text><circle cx="941.8" cy="245.5" r="5.5" fill="#fff"/><text x="941.8" y="247.3" font-family="'Liberation Sans', sans-serif" font-size="5" text-anchor="middle" fill="#222" font-weight="normal" >Ac</text><circle cx="954.6" cy="243" r="5.5" fill="#e3232a"/><text x="954.6" y="244.8" font-family="'Liberation Sans', sans-serif" font-size="5" text-anchor="middle" fill="#222" font-weight="normal" >Ac</text><ellipse cx="982.6" cy="252.0" rx="3.8" ry="7" fill="#3b6fca" transform="rotate(0 982.6 252.0)" /><ellipse cx="983.4" cy="268.2" rx="7" ry="13" fill="#3b6fca" transform="rotate(0 983.4 268.2)" /><text x="983.4" y="268.2" font-family="'Liberation Sans', sans-serif" font-size="7" text-anchor="middle" fill="#fff" font-weight="bold" transform="rotate(90 983.4 268.2) translate(0 2.5)">VIM</text><path d="M974.9,274.0 L960.9,283.4" stroke="#000" stroke-width="1.3" fill="none" /><path d="M957.2,285.9 L959.5,281.3 L962.3,285.5 Z" fill="#000"/><ellipse cx="939.6" cy="289.0" rx="15" ry="9" fill="#8dc63f" transform="rotate(-15 939.6 289.0)" /><text x="939.6" y="291.3" font-family="'Liberation Sans', sans-serif" font-size="6.2" text-anchor="middle" fill="#111" font-weight="bold" transform="rotate(-15 939.6 289)">α-TAT1</text><ellipse cx="953.4" cy="293.2" rx="4" ry="7" fill="#3b6fca" transform="rotate(0 953.4 293.2)" /><ellipse cx="951.5" cy="308.2" rx="7.5" ry="12.5" fill="#3b6fca" transform="rotate(0 951.5 308.2)" /><text x="951.5" y="308.2" font-family="'Liberation Sans', sans-serif" font-size="7" text-anchor="middle" fill="#fff" font-weight="bold" transform="rotate(90 951.5 308.2) translate(0 2.5)">VIM</text><path d="M928.9,302.3 L915.1,311.9" stroke="#000" stroke-width="1.3" fill="none" /><path d="M911.4,314.5 L913.7,309.9 L916.5,314.0 Z" fill="#000"/><path d="M878.5,310.1 L882.6,304.5 L892.6,303.8 L889.5,313.2 L881.9,315.7 Z" fill="#93c83e" stroke="#93c83e" stroke-width="0.6" stroke-linejoin="round"/><path d="M895.1,305.1 L900.1,305.1 L902,310.1 L897.6,316.4 L896.3,311.4 Z" fill="#93c83e" stroke="#93c83e" stroke-width="0.6" stroke-linejoin="round"/><path d="M876.9,316.4 L886.3,319.5 L890.1,322 L885.7,325.1 L877.5,322 Z" fill="#93c83e" stroke="#93c83e" stroke-width="0.6" stroke-linejoin="round"/><path d="M889.5,313.2 L896.3,318.2 L893.8,322.6 L890.1,320.1 Z" fill="#93c83e" stroke="#93c83e" stroke-width="0.6" stroke-linejoin="round"/><path d="M895.7,320.1 L901.4,320.8 L905.1,325.8 L903.9,329.9 L898.9,323.9 Z" fill="#3d74cc" stroke="#3d74cc" stroke-width="0.6" stroke-linejoin="round"/><path d="M877.5,326.4 L881.9,324.5 L882.6,332 L881.3,338.3 L877.5,332.7 Z" fill="#3d74cc" stroke="#3d74cc" stroke-width="0.6" stroke-linejoin="round"/><path d="M881.9,335.2 L891.3,337 L893.8,340.2 L886.9,340.8 L882.6,338.9 Z" fill="#3d74cc" stroke="#3d74cc" stroke-width="0.6" stroke-linejoin="round"/><path d="M892,336.4 L896.3,328.9 L900.1,330.2 L897.6,336.4 Z" fill="#3d74cc" stroke="#3d74cc" stroke-width="0.6" stroke-linejoin="round"/><text x="893.4" y="350.2" font-family="'Liberation Sans', sans-serif" font-size="8.6" text-anchor="middle" fill="#222" font-weight="bold" >degradation</text>
<rect x="83.7" y="445.6" width="612.7" height="355.4" fill="#fff" filter="url(#sh3)"/><rect x="83.7" y="445.6" width="306.3" height="355.4" fill="url(#lbg)"/><rect x="390" y="445.6" width="306.4" height="355.4" fill="url(#rbg)"/><line x1="390" y1="446.6" x2="390" y2="801" stroke="#777" stroke-width="2" stroke-dasharray="8.6,7"/><rect x="83.7" y="445.6" width="612.7" height="355.4" fill="none" stroke="#262222" stroke-width="1.3"/><text x="91" y="465.1" font-family="'Liberation Sans', sans-serif" font-size="13" text-anchor="start" fill="#222" font-weight="normal" textLength="43" lengthAdjust="spacingAndGlyphs">Cytosol</text><text x="159.9" y="462.5" font-family="'Liberation Sans', sans-serif" font-size="13" text-anchor="start" fill="#111" font-weight="bold" textLength="158" lengthAdjust="spacingAndGlyphs">Cellular mRNA translation</text><text x="233.8" y="516" font-family="'Liberation Sans', sans-serif" font-size="11.2" text-anchor="start" fill="#222" font-weight="normal" textLength="27.2" lengthAdjust="spacingAndGlyphs">eIF4F</text><path d="M269.6,490 L267.6,490 L267.6,533.3 L269.6,533.3 M267.6,511.6 L266,511.6" stroke="#333" stroke-width="0.9" fill="none"/><text x="273" y="522.8" font-family="'Liberation Sans', sans-serif" font-size="11.2" text-anchor="start" fill="#222" font-weight="normal" textLength="11.6" lengthAdjust="spacingAndGlyphs">4E</text><rect x="294.7" y="492.9" width="48.7" height="17.5" rx="8.7" fill="url(#blg)" stroke="#5b86c4" stroke-width="0.9"/><ellipse cx="345.5" cy="498.5" rx="11.8" ry="7.35" fill="url(#blg)" transform="rotate(0 345.5 498.5)" stroke="#5b8fd2" stroke-width="0.9"/><text x="345.7" y="502.5" font-family="'Liberation Sans', sans-serif" font-size="11" text-anchor="middle" fill="#111" font-weight="normal" >4A</text><text x="319.2" y="506.1" font-family="'Liberation Sans', sans-serif" font-size="11.2" text-anchor="middle" fill="#111" font-weight="normal" >4G</text><path d="M306.49,512.91 A8.2,8.2 0 1 0 307.46,524.05" stroke="#5b8fd2" stroke-width="9.4" fill="none" stroke-linecap="round"/><path d="M306.49,512.91 A8.2,8.2 0 1 0 307.46,524.05" stroke="url(#blg2)" stroke-width="7.6" fill="none" stroke-linecap="round"/><path d="M112.6,570.6 L119.8,570.6 L119.8,553 A5.8,5.8 0 1 1 125.6,553 L125.6,570.6 L136.4,570.6" stroke="#1a78c8" stroke-width="1.3" fill="none"/><circle cx="108.4" cy="570.6" r="4.3" fill="url(#redc)" stroke="#c02020" stroke-width="0.6"/><text x="139.3" y="573.8" font-family="'Liberation Sans', sans-serif" font-size="8" text-anchor="start" fill="#111" font-weight="bold" >AUG</text><rect x="158.8" y="566.2" width="20.5" height="10.3" fill="#4472c4"/><text x="181.4" y="573.8" font-family="'Liberation Sans', sans-serif" font-size="8" text-anchor="start" fill="#111" font-weight="bold" >UGA</text><path d="M201.1,571.6 C207,571 209,586.3 214.5,586.3 C219,586.3 219,571.6 221.9,571.6 C225,571.6 226,589 229.3,589 C233,589 233,574 238,572" stroke="#1a78c8" stroke-width="1.4" fill="none"/><ellipse cx="247.5" cy="576.4" rx="10.8" ry="6.4" fill="url(#yel)" transform="rotate(25 247.5 576.4)" stroke="#222" stroke-width="0.8"/><text x="243.4" y="577.1" font-family="'Liberation Sans', sans-serif" font-size="8.5" text-anchor="middle" fill="#222" font-weight="normal" >A</text><text x="251.6" y="582.1" font-family="'Liberation Sans', sans-serif" font-size="8.5" text-anchor="middle" fill="#222" font-weight="normal" >A</text><ellipse cx="253.7" cy="593.1" rx="6.4" ry="10.8" fill="url(#yel)" transform="rotate(20 253.7 593.1)" stroke="#222" stroke-width="0.8"/><text x="255.3" y="591.4" font-family="'Liberation Sans', sans-serif" font-size="8.5" text-anchor="middle" fill="#222" font-weight="normal" >A</text><text x="252.1" y="601.2" font-family="'Liberation Sans', sans-serif" font-size="8.5" text-anchor="middle" fill="#222" font-weight="normal" >A</text><ellipse cx="247.2" cy="611.8" rx="6" ry="10.5" fill="url(#yel)" transform="rotate(-10 247.2 611.8)" stroke="#222" stroke-width="0.8"/><text x="246.4" y="610.1" font-family="'Liberation Sans', sans-serif" font-size="8.5" text-anchor="middle" fill="#222" font-weight="normal" >A</text><text x="248.0" y="619.9" font-family="'Liberation Sans', sans-serif" font-size="8.5" text-anchor="middle" fill="#222" font-weight="normal" >A</text><text x="210.7" y="615.6" font-family="'Liberation Sans', sans-serif" font-size="11.2" text-anchor="start" fill="#222" font-weight="normal" textLength="25.3" lengthAdjust="spacingAndGlyphs">PABP</text><circle cx="336.5" cy="570.4" r="6.5" fill="url(#gry)" stroke="#777" stroke-width="0.8"/><circle cx="338.2" cy="588.9" r="8.8" fill="url(#grn)" stroke="#6f9f5e" stroke-width="0.8"/><text x="346.9" y="565.9" font-family="'Liberation Sans', sans-serif" font-size="11.2" text-anchor="start" fill="#222" font-weight="normal" textLength="29.2" lengthAdjust="spacingAndGlyphs">eIF4H</text><text x="348.2" y="600.4" font-family="'Liberation Sans', sans-serif" font-size="11.2" text-anchor="start" fill="#222" font-weight="normal" textLength="28.8" lengthAdjust="spacingAndGlyphs">eIF4B</text><path d="M307.7,541.4 C308,565 304,584 296,596" stroke="#111" stroke-width="1.2" fill="none"/><path d="M328.5,578.9 C312,579 302,586 292,598 C278,612 266,620 264,645 C263,660 267,672 269.7,682.7" stroke="#111" stroke-width="1.2" fill="none"/><path d="M259.2,625.1 C262,640 266,660 269.7,682.7" stroke="#111" stroke-width="1.2" fill="none"/><path d="M265.8,678.3 L269.7,682.7 L272.1,677.3" stroke="#111" stroke-width="1.2" fill="none"/><path d="M240,636.8 C252,638 262,642 264.5,652 C266,664 256,671 247.5,673.9" stroke="#111" stroke-width="1.2" fill="none"/><path d="M251.2,670.2 L247.5,673.9 L252.5,675.2" stroke="#111" stroke-width="1.2" fill="none"/><text x="212.7" y="643.5" font-family="'Liberation Sans', sans-serif" font-size="11.2" text-anchor="start" fill="#222" font-weight="normal" textLength="18.4" lengthAdjust="spacingAndGlyphs">ATP</text><text x="209.1" y="680" font-family="'Liberation Sans', sans-serif" font-size="11.2" text-anchor="start" fill="#222" font-weight="normal" textLength="34.9" lengthAdjust="spacingAndGlyphs">ADP, Pi</text><path d="M353.8,712.8 C372,712.5 379,718 379,728 C379,740 365,745.3 336.8,745.3" stroke="#3a6aa8" stroke-width="1.4" fill="none"/><rect x="238.3" y="689.5" width="43" height="15" rx="7.5" fill="url(#blg)" stroke="#5b8fd2" stroke-width="0.8"/><ellipse cx="289.3" cy="692.8" rx="10.5" ry="7" fill="url(#blg)" transform="rotate(0 289.3 692.8)" stroke="#5b8fd2" stroke-width="0.8"/><path d="M249.12,707.30 A7.8,7.8 0 1 0 250.05,717.90" stroke="#5b8fd2" stroke-width="9.0" fill="none" stroke-linecap="round"/><path d="M249.12,707.30 A7.8,7.8 0 1 0 250.05,717.90" stroke="url(#blg2)" stroke-width="7.4" fill="none" stroke-linecap="round"/><circle cx="289.3" cy="706.3" r="6.6" fill="url(#gry)" stroke="#666" stroke-width="0.8"/><circle cx="303.8" cy="703.3" r="8.6" fill="url(#grn)" stroke="#7aaa66" stroke-width="0.8"/><path d="M246.3,713.5 C256.3,713.5 260.3,706.5 268.3,708.5 C276.3,710.5 280.3,713.5 288.3,713.5 L314.3,713.5" stroke="#2a6ab0" stroke-width="1.3" fill="none"/><circle cx="245.9" cy="713.5" r="3.6" fill="url(#redc)" stroke="#b01010" stroke-width="0.6"/><text x="317.1" y="715.3" font-family="'Liberation Sans', sans-serif" font-size="8" text-anchor="start" fill="#111" font-weight="bold" >AUG</text><rect x="335.9" y="709" width="17.9" height="7.7" fill="#4a88d0" stroke="#3a6aa8" stroke-width="0.5"/><ellipse cx="276.8" cy="714.9" rx="6.4" ry="10.4" fill="url(#yel)" transform="rotate(-30 276.8 714.9)" stroke="#222" stroke-width="0.8"/><text x="274.6" y="713.7" font-family="'Liberation Sans', sans-serif" font-size="8.5" text-anchor="middle" fill="#222" font-weight="normal" >A</text><text x="279.0" y="722.5" font-family="'Liberation Sans', sans-serif" font-size="8.5" text-anchor="middle" fill="#222" font-weight="normal" >A</text><ellipse cx="289.4" cy="729.2" rx="10.4" ry="6.8" fill="url(#yel)" transform="rotate(30 289.4 729.2)" stroke="#222" stroke-width="0.8"/><text x="285.6" y="729.6" font-family="'Liberation Sans', sans-serif" font-size="8.5" text-anchor="middle" fill="#222" font-weight="normal" >A</text><text x="293.2" y="735.2" font-family="'Liberation Sans', sans-serif" font-size="8.5" text-anchor="middle" fill="#222" font-weight="normal" >A</text><ellipse cx="307.3" cy="738.5" rx="10.4" ry="6.4" fill="url(#yel)" transform="rotate(15 307.3 738.5)" stroke="#222" stroke-width="0.8"/><text x="303.1" y="740.0" font-family="'Liberation Sans', sans-serif" font-size="8.5" text-anchor="middle" fill="#222" font-weight="normal" >A</text><text x="311.5" y="743.4" font-family="'Liberation Sans', sans-serif" font-size="8.5" text-anchor="middle" fill="#222" font-weight="normal" >A</text><ellipse cx="327.0" cy="743.5" rx="10.4" ry="6.4" fill="url(#yel)" transform="rotate(5 327.0 743.5)" stroke="#222" stroke-width="0.8"/><text x="322.6" y="745.7" font-family="'Liberation Sans', sans-serif" font-size="8.5" text-anchor="middle" fill="#222" font-weight="normal" >A</text><text x="331.4" y="747.7" font-family="'Liberation Sans', sans-serif" font-size="8.5" text-anchor="middle" fill="#222" font-weight="normal" >A</text><rect x="86.8" y="731" width="152.6" height="67" fill="url(#leg)" stroke="#5582d2" stroke-width="1.4"/><path d="M98,742.8 C102,742.8 103,738.8 105,738.8 C107,738.8 108,743.3 112.6,743.3" stroke="#1a78c8" stroke-width="0.9" fill="none"/><circle cx="95.9" cy="742.8" r="2.5" fill="url(#redc)" stroke="#c02020" stroke-width="0.5"/><text x="113.2" y="744.8" font-family="'Liberation Sans', sans-serif" font-size="4.8" text-anchor="start" fill="#111" font-weight="bold" >AUG</text><rect x="125.8" y="740.1999999999999" width="8" height="5.2" fill="#4a88d0"/><path d="M133.8,742.8 L141.3,739.5999999999999 C145,739.8 147,745.8 150.8,745.5999999999999 C155,745.3 157,738.8 161.4,738.9 C166,739.3 168,745.8 171.7,747.5999999999999" stroke="#555" stroke-width="0.7" fill="none"/><rect x="140.20000000000002" y="738.5" width="2.2" height="2.2" fill="#7b9ad8"/><rect x="149.70000000000002" y="744.5" width="2.2" height="2.2" fill="#7b9ad8"/><rect x="160.3" y="737.8" width="2.2" height="2.2" fill="#7b9ad8"/><rect x="170.6" y="746.5" width="2.2" height="2.2" fill="#7b9ad8"/><text x="177.6" y="746.9" font-family="'Liberation Sans', sans-serif" font-size="7.4" text-anchor="start" fill="#111" font-weight="bold" >Cellular mRNA</text><path d="M98,758.2 C102,758.2 103,754.2 105,754.2 C107,754.2 108,758.7 112.6,758.7" stroke="#c02020" stroke-width="0.9" fill="none"/><circle cx="95.9" cy="758.2" r="2.5" fill="url(#redc)" stroke="#c02020" stroke-width="0.5"/><text x="113.2" y="760.2" font-family="'Liberation Sans', sans-serif" font-size="4.8" text-anchor="start" fill="#c02020" font-weight="bold" >AUG</text><rect x="125.8" y="755.6" width="8" height="5.2" fill="#c00000"/><path d="M133.8,758.2 L141.3,755.0 C145,755.2 147,761.2 150.8,761.0 C155,760.7 157,754.2 161.4,754.3000000000001 C166,754.7 168,761.2 171.7,763.0" stroke="#555" stroke-width="0.7" fill="none"/><rect x="140.20000000000002" y="753.9" width="2.2" height="2.2" fill="#7b9ad8"/><rect x="149.70000000000002" y="759.9" width="2.2" height="2.2" fill="#7b9ad8"/><rect x="160.3" y="753.2" width="2.2" height="2.2" fill="#7b9ad8"/><rect x="170.6" y="761.9" width="2.2" height="2.2" fill="#7b9ad8"/><text x="177.6" y="762.3" font-family="'Liberation Sans', sans-serif" font-size="7.4" text-anchor="start" fill="#111" font-weight="bold" >Viral mRNA</text><path d="M95,775.5 C100,776 103,772 106,772 C110,772 112,778 116,778 C120,778 122,775 127,775 C131,775 133,775 136,775 C141,775 145,775.5 150,775.5 C156,775.5 162,775 166,775" stroke="#f2d26a" stroke-width="1" fill="none"/><path d="M93.9,775.8 C94.5,772.3 100.5,772.3 101.1,775.8 C99.5,776.8 97.5,774.8 96.5,776.8 Z" fill="#f7dc80" stroke="#d8b440" stroke-width="0.5"/><path d="M110.9,771.8 C111.5,768.3 117.5,768.3 118.1,771.8 C116.5,772.8 114.5,770.8 113.5,772.8 Z" fill="#f7dc80" stroke="#d8b440" stroke-width="0.5"/><path d="M127.20000000000002,778.0 C127.80000000000001,774.5 133.8,774.5 134.4,778.0 C132.8,779.0 130.8,777.0 129.8,779.0 Z" fill="#f7dc80" stroke="#d8b440" stroke-width="0.5"/><path d="M144.9,775.5 C145.5,772 151.5,772 152.1,775.5 C150.5,776.5 148.5,774.5 147.5,776.5 Z" fill="#f7dc80" stroke="#d8b440" stroke-width="0.5"/><circle cx="169.6" cy="775.3" r="3.5" fill="#4ccfb0" stroke="#2a9a80" stroke-width="0.5"/><text x="177.6" y="778.9" font-family="'Liberation Sans', sans-serif" font-size="7.4" text-anchor="start" fill="#111" font-weight="bold" >PABP</text><rect x="92" y="787.4" width="3.6" height="3.6" rx="0.8" fill="#c8daf8" stroke="#98b8e8" stroke-width="0.4"/><text x="99.5" y="791.6" font-family="'Liberation Sans', sans-serif" font-size="7.4" text-anchor="start" fill="#111" font-weight="bold" textLength="59.8" lengthAdjust="spacingAndGlyphs">PABP binding site</text><path d="M166.6,790 C167,786 174,786 174.2,790 C172,791 170,788.5 168.5,790.5 Z" fill="#f7dc80" stroke="#d8b440" stroke-width="0.5"/><text x="177.6" y="791.6" font-family="'Liberation Sans', sans-serif" font-size="7.4" text-anchor="start" fill="#111" font-weight="bold" >RRM</text><circle cx="206.3" cy="789.2" r="3.3" fill="#4ccfb0" stroke="#2a9a80" stroke-width="0.5"/><text x="213" y="791.6" font-family="'Liberation Sans', sans-serif" font-size="7.4" text-anchor="start" fill="#111" font-weight="bold" >MLLE</text><text x="481.3" y="462.8" font-family="'Liberation Sans', sans-serif" font-size="13" text-anchor="start" fill="#111" font-weight="bold" textLength="135.1" lengthAdjust="spacingAndGlyphs">RSV mRNA translation</text><text x="647.3" y="464.7" font-family="'Liberation Sans', sans-serif" font-size="13" text-anchor="start" fill="#222" font-weight="normal" textLength="42.8" lengthAdjust="spacingAndGlyphs">Cytosol</text><text x="537.6" y="505.1" font-family="'Liberation Sans', sans-serif" font-size="12" text-anchor="start" fill="#222" font-weight="normal" textLength="148.5" lengthAdjust="spacingAndGlyphs">Secondary condensed phase</text><text x="417.6" y="522.6" font-family="'Liberation Sans', sans-serif" font-size="11.2" text-anchor="start" fill="#222" font-weight="normal" textLength="11.6" lengthAdjust="spacingAndGlyphs">4E</text><rect x="439.3" y="492.5" width="48.7" height="17.5" rx="8.7" fill="url(#blg)" stroke="#5b86c4" stroke-width="0.9"/><ellipse cx="490.1" cy="498.1" rx="11.8" ry="7.35" fill="url(#blg)" transform="rotate(0 490.1 498.1)" stroke="#5b8fd2" stroke-width="0.9"/><text x="490.3" y="502.1" font-family="'Liberation Sans', sans-serif" font-size="11" text-anchor="middle" fill="#111" font-weight="normal" >4A</text><text x="463.8" y="505.7" font-family="'Liberation Sans', sans-serif" font-size="11.2" text-anchor="middle" fill="#111" font-weight="normal" >4G</text><path d="M451.09,512.51 A8.2,8.2 0 1 0 452.06,523.65" stroke="#5b8fd2" stroke-width="9.4" fill="none" stroke-linecap="round"/><path d="M451.09,512.51 A8.2,8.2 0 1 0 452.06,523.65" stroke="url(#blg2)" stroke-width="7.6" fill="none" stroke-linecap="round"/><text x="397.5" y="553.5" font-family="'Liberation Sans', sans-serif" font-size="11.2" text-anchor="start" fill="#222" font-weight="normal" textLength="30.1" lengthAdjust="spacingAndGlyphs">eIF4H</text><text x="405" y="605.6" font-family="'Liberation Sans', sans-serif" font-size="11.2" text-anchor="start" fill="#222" font-weight="normal" textLength="28.8" lengthAdjust="spacingAndGlyphs">eIF4B</text><circle cx="413" cy="565.2" r="6.7" fill="url(#gry)" stroke="#777" stroke-width="0.8"/><circle cx="418.7" cy="582.7" r="8.7" fill="url(#grn)" stroke="#6f9f5e" stroke-width="0.8"/><path d="M425.1,571 C435,566 447,558 456,562 C461,564 463,568 464.5,571" stroke="#111" stroke-width="1.2" fill="none"/><path d="M468.2,514.2 C467,540 466,565 466.8,586.9" stroke="#111" stroke-width="1.2" fill="none"/><path d="M463.3,581.5 L466.8,586.9 L470.1,581.3" stroke="#111" stroke-width="1.2" fill="none"/><ellipse cx="479.3" cy="601.9" rx="12.8" ry="7.8" fill="url(#yel)" transform="rotate(25 479.3 601.9)" stroke="#222" stroke-width="0.8"/><text x="479.3" y="604.8" font-family="'Liberation Sans', sans-serif" font-size="8" text-anchor="middle" fill="#222" font-weight="normal" font-style="italic" transform="rotate(25 479.3 601.9)">PABP</text><g transform="translate(520.3,593.6) rotate(20)"><rect x="-15" y="-6.8" width="30" height="13.6" rx="1.5" fill="#f6a67c" stroke="#8a4a30" stroke-width="0.8"/></g><text x="520.3" y="597" font-family="'Liberation Sans', sans-serif" font-size="9" text-anchor="middle" fill="#222" font-weight="normal" font-style="italic" transform="rotate(20 520.3 593.6)">N</text><g transform="translate(493.8,655.3) rotate(40)"><rect x="-14" y="-6.5" width="28" height="13" rx="1.5" fill="#f8ca64" stroke="#5a4420" stroke-width="0.8"/></g><text x="493.8" y="658.5" font-family="'Liberation Sans', sans-serif" font-size="8.5" text-anchor="middle" fill="#222" font-weight="normal" transform="rotate(40 493.8 655.3)">M2-1</text><path d="M493.4,613.3 L552.3,657" stroke="#111" stroke-width="1.2" fill="none"/><path d="M545.3,656.3 L552.3,657.0 L549.6,650.5" stroke="#111" stroke-width="1.2" fill="none"/><path d="M519.8,605.2 C518,615 514,622 517,629.6 M500.5,648.8 C507,641 513,636 522.8,636.3" stroke="#111" stroke-width="1.2" fill="none"/><circle cx="614.2" cy="569.1" r="57.6" fill="url(#gcr)" stroke="#a0a0a0" stroke-width="1" stroke-dasharray="4,3"/><path d="M570.2,615.1 L611,666 M661.7,608.2 L627,667" stroke="#222" stroke-width="0.9" stroke-dasharray="3,2.5"/><path d="M586,537 C590,533 591,532.8 593.3,532.8 C600,532.8 602,537.5 607,537.3 C612,537 614,525.2 619.6,525.2 C625,525.2 629,533 634.6,533.3" stroke="#555" stroke-width="0.8" fill="none"/><path d="M611.3,553.8 C617,555 622,551 632,551.5 C642,552 647,556 648.8,563 C650,568 651.5,572 651.5,577 C651.5,583 650,586 647,589" stroke="#555" stroke-width="0.8" fill="none"/><path d="M576.7,562 C577,568 580,572 581,577 C582,582 577,585 577.8,589.4 C579,594 583,596 588,599.2 C590,602 592,605 596,606.5" stroke="#555" stroke-width="0.8" fill="none"/><path d="M657.8,586 C659,578 655,572 653,566 C650,558 640,552 636,540 C630,537 620,540 607,540.7 C596,545 591,553 590,562 C589,569 586,573 583.4,576.4" stroke="#f0cc50" stroke-width="1" fill="none"/><ellipse cx="606.6" cy="540.7" rx="4.2" ry="3.4" fill="#f6e08a" stroke="#e0c050" stroke-width="0.5"/><ellipse cx="634.5" cy="536.8" rx="4.2" ry="3.4" fill="#f6e08a" stroke="#e0c050" stroke-width="0.5"/><ellipse cx="652.4" cy="562.4" rx="4.2" ry="3.4" fill="#f6e08a" stroke="#e0c050" stroke-width="0.5"/><ellipse cx="583.4" cy="576.4" rx="4.2" ry="3.4" fill="#f6e08a" stroke="#e0c050" stroke-width="0.5"/><rect x="592.1999999999999" y="531.6999999999999" width="2.2" height="2.2" fill="#7090d0"/><rect x="605.9" y="536.1999999999999" width="2.2" height="2.2" fill="#7090d0"/><rect x="618.5" y="524.1" width="2.2" height="2.2" fill="#7090d0"/><rect x="633.5" y="532.1999999999999" width="2.2" height="2.2" fill="#7090d0"/><rect x="610.1999999999999" y="552.6999999999999" width="2.2" height="2.2" fill="#7090d0"/><rect x="630.9" y="550.4" width="2.2" height="2.2" fill="#7090d0"/><rect x="647.6999999999999" y="561.9" width="2.2" height="2.2" fill="#7090d0"/><rect x="650.4" y="575.9" width="2.2" height="2.2" fill="#7090d0"/><rect x="575.6" y="560.9" width="2.2" height="2.2" fill="#7090d0"/><rect x="579.9" y="575.9" width="2.2" height="2.2" fill="#7090d0"/><rect x="576.6999999999999" y="588.3" width="2.2" height="2.2" fill="#7090d0"/><rect x="586.9" y="598.1" width="2.2" height="2.2" fill="#7090d0"/><circle cx="657.8" cy="590.6" r="4.4" fill="#a8e8e0" stroke="#5ab8b0" stroke-width="0.6"/><rect x="-2.5" y="-5.5" width="5" height="11" fill="#c00000" transform="translate(581,541) rotate(30)"/><path d="M579,547 C577,552 574,556 573,560 C572,565 568,564 567,568 C566,571 566,572 565.5,573" stroke="#c81818" stroke-width="0.9" fill="none"/><circle cx="565.5" cy="574.8" r="2" fill="#fff" stroke="#c81818" stroke-width="0.9"/><text x="577" y="553" font-family="'Liberation Sans', sans-serif" font-size="4.2" text-anchor="middle" fill="#c00000" font-weight="bold" transform="rotate(-60 577 553)">AUG</text><rect x="-4.8" y="-2.7" width="9.6" height="5.4" fill="#c00000" transform="translate(643,591.5) rotate(-15)"/><path d="M607.5,586.9 C612,585 614,589 617,590 C620,591 622,593 626,593" stroke="#c81818" stroke-width="0.9" fill="none"/><circle cx="605.5" cy="586.9" r="2" fill="#fff" stroke="#c81818" stroke-width="0.9"/><text x="631" y="595" font-family="'Liberation Sans', sans-serif" font-size="4.4" text-anchor="middle" fill="#c00000" font-weight="bold" >AUG</text><rect x="-5" y="-2.8" width="10" height="5.6" fill="#c00000" transform="translate(600.8,607.8) rotate(10)"/><path d="M615,610 C620,611 623,607 627,608 C630,609 631,607 632,606.5" stroke="#c81818" stroke-width="0.9" fill="none"/><circle cx="633.8" cy="606.1" r="2" fill="#fff" stroke="#c81818" stroke-width="0.9"/><text x="611" y="608.5" font-family="'Liberation Sans', sans-serif" font-size="4.4" text-anchor="middle" fill="#c00000" font-weight="bold" transform="rotate(190 611 608.5)">AUG</text><ellipse cx="617.4" cy="693" rx="59.4" ry="54.2" fill="url(#pnk)"/><circle cx="619" cy="696.5" r="13.2" fill="#13a03c"/><circle cx="619" cy="672.4" r="6.4" fill="#13a03c"/><circle cx="599.8" cy="680.3" r="5" fill="#13a03c"/><circle cx="637.2" cy="683" r="3.5" fill="#13a03c"/><text x="579.4" y="725.2" font-family="'Liberation Sans', sans-serif" font-size="8.8" text-anchor="start" fill="#111" font-weight="bold" textLength="76.5" lengthAdjust="spacingAndGlyphs">mRNA activation</text><text x="612.5" y="764.4" font-family="'Liberation Sans', sans-serif" font-size="11" text-anchor="start" fill="#222" font-weight="normal" textLength="14.8" lengthAdjust="spacingAndGlyphs">IBs</text><path d="M553.3,687.0 L525.0,701.6" stroke="#111" stroke-width="1.2" fill="none"/><path d="M524.9,701.6 L524.9,701.5 L523.9,702.1 L525.0,701.6 Z" fill="#111"/><path d="M553.3,687 L524.9,701.6" stroke="#111" stroke-width="1.2" fill="none"/><path d="M528.2,696.1 L524.9,701.6 L531.3,702.1" stroke="#111" stroke-width="1.2" fill="none"/><path d="M527.9,712 C543,712 548.2,718 548.2,729 C548.2,740 540,745.2 512.7,745.2" stroke="#c00000" stroke-width="1.5" fill="none"/><rect x="417.3" y="689" width="43" height="15" rx="7.5" fill="url(#blg)" stroke="#5b8fd2" stroke-width="0.8"/><ellipse cx="468.3" cy="692.3" rx="10.5" ry="7" fill="url(#blg)" transform="rotate(0 468.3 692.3)" stroke="#5b8fd2" stroke-width="0.8"/><path d="M428.12,706.80 A7.8,7.8 0 1 0 429.05,717.40" stroke="#5b8fd2" stroke-width="9.0" fill="none" stroke-linecap="round"/><path d="M428.12,706.80 A7.8,7.8 0 1 0 429.05,717.40" stroke="url(#blg2)" stroke-width="7.4" fill="none" stroke-linecap="round"/><circle cx="468.3" cy="705.8" r="6.6" fill="url(#gry)" stroke="#666" stroke-width="0.8"/><circle cx="482.8" cy="702.8" r="8.6" fill="url(#grn)" stroke="#7aaa66" stroke-width="0.8"/><path d="M425.3,713 C435.3,713 439.3,706 447.3,708 C455.3,710 459.3,713 467.3,713 L493.3,713" stroke="#c00000" stroke-width="1.3" fill="none"/><circle cx="424.90000000000003" cy="713" r="3.6" fill="url(#redc)" stroke="#b01010" stroke-width="0.6"/><text x="490.4" y="714.8" font-family="'Liberation Sans', sans-serif" font-size="8" text-anchor="start" fill="#c00000" font-weight="bold" >AUG</text><rect x="508.6" y="708.7" width="19.3" height="8.1" fill="#c00000"/><ellipse cx="448.8" cy="714.8" rx="6.4" ry="10.4" fill="url(#yel)" transform="rotate(-25 448.8 714.8)" stroke="#222" stroke-width="0.8"/><text x="447.0" y="713.4" font-family="'Liberation Sans', sans-serif" font-size="8.5" text-anchor="middle" fill="#222" font-weight="normal" >A</text><text x="450.6" y="722.6" font-family="'Liberation Sans', sans-serif" font-size="8.5" text-anchor="middle" fill="#222" font-weight="normal" >A</text><ellipse cx="464.0" cy="730.0" rx="10.4" ry="6.8" fill="url(#yel)" transform="rotate(30 464.0 730.0)" stroke="#222" stroke-width="0.8"/><text x="460.2" y="730.4" font-family="'Liberation Sans', sans-serif" font-size="8.5" text-anchor="middle" fill="#222" font-weight="normal" >A</text><text x="467.8" y="736.0" font-family="'Liberation Sans', sans-serif" font-size="8.5" text-anchor="middle" fill="#222" font-weight="normal" >A</text><ellipse cx="482.7" cy="740.2" rx="10.4" ry="6.4" fill="url(#yel)" transform="rotate(15 482.7 740.2)" stroke="#222" stroke-width="0.8"/><text x="478.5" y="741.7" font-family="'Liberation Sans', sans-serif" font-size="8.5" text-anchor="middle" fill="#222" font-weight="normal" >A</text><text x="486.9" y="745.1" font-family="'Liberation Sans', sans-serif" font-size="8.5" text-anchor="middle" fill="#222" font-weight="normal" >A</text><ellipse cx="502.5" cy="745.2" rx="10.4" ry="6.4" fill="url(#yel)" transform="rotate(5 502.5 745.2)" stroke="#222" stroke-width="0.8"/><text x="498.1" y="747.4" font-family="'Liberation Sans', sans-serif" font-size="8.5" text-anchor="middle" fill="#222" font-weight="normal" >A</text><text x="506.9" y="749.4" font-family="'Liberation Sans', sans-serif" font-size="8.5" text-anchor="middle" fill="#222" font-weight="normal" >A</text><path d="M357.4,770.5 L339.4,755.7" stroke="#111" stroke-width="1.3" fill="none"/><path d="M335.2,752.2 L341.2,753.5 L338.5,754.9 L337.7,757.9 Z" fill="#111"/><path d="M426.6,771.2 L450.4,749.3" stroke="#111" stroke-width="1.3" fill="none"/><path d="M454.5,745.6 L452.3,751.4 L451.3,748.5 L448.6,747.3 Z" fill="#111"/><path d="M366.1,775.5 C366,771 370,770 376,770 L412,770.3 C417,770.5 420.5,776 420.2,783.1 C419,792 400,799.6 388.2,799.6 C380,799.6 375,792 371.9,786.6 C369,782 366.2,779 366.1,775.5 Z" fill="url(#rib)" stroke="#333" stroke-width="0.8"/><text x="394.2" y="778.4" font-family="'Liberation Sans', sans-serif" font-size="8.6" text-anchor="middle" fill="#222" font-weight="normal" textLength="16" lengthAdjust="spacingAndGlyphs">40S</text><text x="394.3" y="786.6" font-family="'Liberation Sans', sans-serif" font-size="9.8" text-anchor="middle" fill="#222" font-weight="normal" textLength="43.6" lengthAdjust="spacingAndGlyphs">ribosome</text>
<rect x="347.2" y="205" width="1.8" height="28" fill="#c8cfd4"/><rect x="350.7" y="205" width="3.6" height="28" fill="#c5ccd1"/><path d="M356.7,205 L398.2,205 L398.2,190.8 L426.2,219 L398.2,247.2 L398.2,233 L356.7,233 Z" fill="url(#ag)"/><rect x="717" y="204.7" width="1.8" height="28" fill="#c8cfd4"/><rect x="720.5" y="204.7" width="3.6" height="28" fill="#c5ccd1"/><path d="M726.5,204.7 L768,204.7 L768,190.5 L796,218.7 L768,246.89999999999998 L768,232.7 L726.5,232.7 Z" fill="url(#ag)"/><rect x="916.0" y="454" width="28.8" height="1.8" fill="#c8cfd4"/><rect x="916.0" y="457.2" width="28.8" height="4.6" fill="#c5ccd1"/><path d="M916.0,462.5 L944.8,462.5 L944.8,504 L958.8,504 L930.4,533 L902.0,504 L916.0,504 Z" fill="url(#agv)"/>
<text x="292" y="62.3" font-family="'Liberation Sans', sans-serif" font-weight="bold" font-size="28" fill="#c00000" stroke="#c00000" stroke-width="0.3">病毒</text><text x="362" y="62.3" font-family="'Liberation Sans', sans-serif" font-weight="bold" font-size="28" fill="#c00000" stroke="#c00000" stroke-width="0.3">“</text><text x="377.8" y="62.3" font-family="'Liberation Sans', sans-serif" font-weight="bold" font-size="28" fill="#c00000" stroke="#c00000" stroke-width="0.3">复制细胞器</text><text x="524.5" y="62.3" font-family="'Liberation Sans', sans-serif" font-weight="bold" font-size="28" fill="#c00000" stroke="#c00000" stroke-width="0.3">”</text><text x="546.2" y="62.3" font-family="'Liberation Sans', sans-serif" font-weight="bold" font-size="28" fill="#c00000" stroke="#c00000" stroke-width="0.3" textLength="282" lengthAdjust="spacing">的生物发生与稳态调控</text><text x="16" y="402" font-family="'Liberation Sans', sans-serif" font-weight="bold" font-size="21.7" fill="#000">病毒的N和P蛋白形成复制细胞器的骨架</text><text x="446" y="402" font-family="'Liberation Sans', sans-serif" font-weight="bold" font-size="21.7" fill="#000">病毒复制细胞器具有膜结构</text><text x="765" y="402" font-family="'Liberation Sans', sans-serif" font-weight="bold" font-size="21.7" fill="#000">波形蛋白抑制复制细胞器的融合成熟</text><text x="781" y="572.5" font-family="'Liberation Sans', sans-serif" font-weight="bold" font-size="21.7" fill="#000">鉴定出病毒复制细胞器内具有</text><text x="781" y="611.5" font-family="'Liberation Sans', sans-serif" font-weight="bold" font-size="21.7" fill="#000">类似核仁的亚结构，病毒利用</text><text x="781" y="650.5" font-family="'Liberation Sans', sans-serif" font-weight="bold" font-size="21.7" fill="#000">亚结构进化出新的翻译策略。</text><text x="781.4" y="728.5" font-family="'Liberation Sans', sans-serif" font-size="18" fill="#c00000" stroke="#c00000" stroke-width="0.45" textLength="68.8" lengthAdjust="spacingAndGlyphs">Virol Sin</text><text x="856.7" y="728.5" font-family="'Liberation Sans', sans-serif" font-size="18" fill="#000" textLength="44.3" lengthAdjust="spacingAndGlyphs">2023;</text><text x="907.5" y="728.5" font-family="'Liberation Sans', sans-serif" font-size="18" fill="#c00000" stroke="#c00000" stroke-width="0.45" textLength="105.6" lengthAdjust="spacingAndGlyphs">PLoS Pathog</text><text x="1019.9" y="728.5" font-family="'Liberation Sans', sans-serif" font-size="18" fill="#000" textLength="44.6" lengthAdjust="spacingAndGlyphs">2022;</text><text x="781.4" y="752.8" font-family="'Liberation Sans', sans-serif" font-size="18" fill="#c00000" stroke="#c00000" stroke-width="0.45" textLength="67.4" lengthAdjust="spacingAndGlyphs">Cell Rep</text><text x="855.2" y="752.8" font-family="'Liberation Sans', sans-serif" font-size="18" fill="#000" textLength="44.4" lengthAdjust="spacingAndGlyphs">2019;</text><text x="906" y="752.8" font-family="'Liberation Sans', sans-serif" font-size="18" fill="#c00000" stroke="#c00000" stroke-width="0.45" textLength="51.2" lengthAdjust="spacingAndGlyphs">J Virol</text><text x="963.4" y="752.8" font-family="'Liberation Sans', sans-serif" font-size="18" fill="#000" textLength="40" lengthAdjust="spacingAndGlyphs">2013</text>
</svg>
</body></html>
